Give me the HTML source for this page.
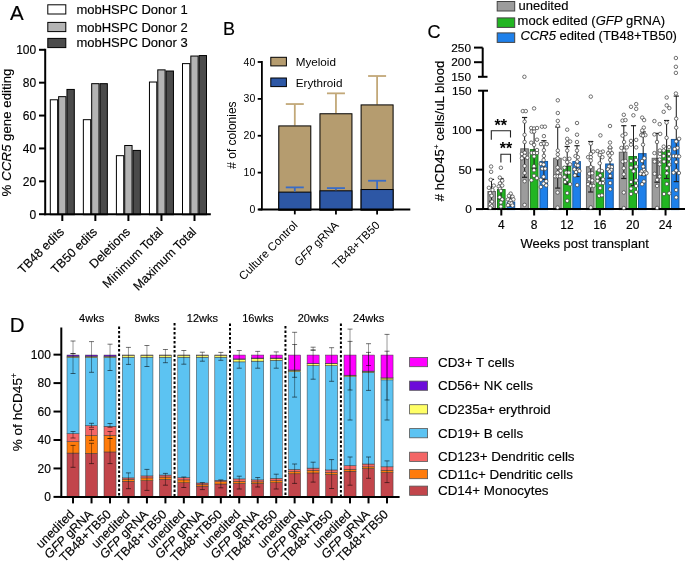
<!DOCTYPE html>
<html><head><meta charset="utf-8"><style>
html,body{margin:0;padding:0;background:#fff;}
svg{display:block;font-family:"Liberation Sans", sans-serif;}
svg{will-change:transform;}
text{stroke:#000;stroke-width:0.15px;}
</style></head><body>
<svg width="685" height="562" viewBox="0 0 685 562">
<rect width="685" height="562" fill="#fff"/>
<text x="10.00" y="20.20" font-size="20.5" text-anchor="start" >A</text>
<rect x="47.80" y="4.80" width="18.00" height="9.20" fill="#FFFFFF" stroke="#000" stroke-width="1" />
<text x="76.40" y="14.00" font-size="13" text-anchor="start" >mobHSPC Donor 1</text>
<rect x="47.80" y="22.40" width="18.00" height="9.20" fill="#B4B4B4" stroke="#000" stroke-width="1" />
<text x="76.40" y="31.50" font-size="13" text-anchor="start" >mobHSPC Donor 2</text>
<rect x="47.80" y="38.40" width="18.00" height="9.20" fill="#4B4B4B" stroke="#000" stroke-width="1" />
<text x="76.40" y="46.70" font-size="13" text-anchor="start" >mobHSPC Donor 3</text>
<rect x="50.30" y="99.78" width="7.33" height="114.92" fill="#FFFFFF" stroke="#000" stroke-width="1" />
<rect x="58.63" y="96.66" width="7.33" height="118.04" fill="#B4B4B4" stroke="#000" stroke-width="1" />
<rect x="66.96" y="89.43" width="7.33" height="125.27" fill="#4B4B4B" stroke="#000" stroke-width="1" />
<rect x="83.35" y="119.68" width="7.33" height="95.02" fill="#FFFFFF" stroke="#000" stroke-width="1" />
<rect x="91.68" y="83.67" width="7.33" height="131.03" fill="#B4B4B4" stroke="#000" stroke-width="1" />
<rect x="100.01" y="83.67" width="7.33" height="131.03" fill="#4B4B4B" stroke="#000" stroke-width="1" />
<rect x="116.40" y="155.68" width="7.33" height="59.02" fill="#FFFFFF" stroke="#000" stroke-width="1" />
<rect x="124.73" y="145.49" width="7.33" height="69.21" fill="#B4B4B4" stroke="#000" stroke-width="1" />
<rect x="133.06" y="150.42" width="7.33" height="64.28" fill="#4B4B4B" stroke="#000" stroke-width="1" />
<rect x="149.45" y="82.03" width="7.33" height="132.67" fill="#FFFFFF" stroke="#000" stroke-width="1" />
<rect x="157.78" y="69.86" width="7.33" height="144.84" fill="#B4B4B4" stroke="#000" stroke-width="1" />
<rect x="166.11" y="71.01" width="7.33" height="143.69" fill="#4B4B4B" stroke="#000" stroke-width="1" />
<rect x="182.50" y="63.62" width="7.33" height="151.08" fill="#FFFFFF" stroke="#000" stroke-width="1" />
<rect x="190.83" y="56.05" width="7.33" height="158.65" fill="#B4B4B4" stroke="#000" stroke-width="1" />
<rect x="199.16" y="55.56" width="7.33" height="159.14" fill="#4B4B4B" stroke="#000" stroke-width="1" />
<line x1="45.20" y1="48.80" x2="45.20" y2="215.20" stroke="#000" stroke-width="2" />
<line x1="44.20" y1="214.20" x2="210.80" y2="214.20" stroke="#000" stroke-width="2" />
<line x1="39.00" y1="214.20" x2="45.20" y2="214.20" stroke="#000" stroke-width="2" />
<text x="36.20" y="218.50" font-size="12" text-anchor="end" >0</text>
<line x1="39.00" y1="181.32" x2="45.20" y2="181.32" stroke="#000" stroke-width="2" />
<text x="36.20" y="185.62" font-size="12" text-anchor="end" >20</text>
<line x1="39.00" y1="148.44" x2="45.20" y2="148.44" stroke="#000" stroke-width="2" />
<text x="36.20" y="152.74" font-size="12" text-anchor="end" >40</text>
<line x1="39.00" y1="115.56" x2="45.20" y2="115.56" stroke="#000" stroke-width="2" />
<text x="36.20" y="119.86" font-size="12" text-anchor="end" >60</text>
<line x1="39.00" y1="82.68" x2="45.20" y2="82.68" stroke="#000" stroke-width="2" />
<text x="36.20" y="86.98" font-size="12" text-anchor="end" >80</text>
<line x1="39.00" y1="49.80" x2="45.20" y2="49.80" stroke="#000" stroke-width="2" />
<text x="36.20" y="54.10" font-size="12" text-anchor="end" >100</text>
<line x1="62.30" y1="214.20" x2="62.30" y2="221.00" stroke="#000" stroke-width="2" />
<text transform="translate(64.80,232.50) rotate(-45)" font-size="12.4" text-anchor="end">TB48 edits</text>
<line x1="95.35" y1="214.20" x2="95.35" y2="221.00" stroke="#000" stroke-width="2" />
<text transform="translate(97.85,232.50) rotate(-45)" font-size="12.4" text-anchor="end">TB50 edits</text>
<line x1="128.40" y1="214.20" x2="128.40" y2="221.00" stroke="#000" stroke-width="2" />
<text transform="translate(130.90,232.50) rotate(-45)" font-size="12.4" text-anchor="end">Deletions</text>
<line x1="161.45" y1="214.20" x2="161.45" y2="221.00" stroke="#000" stroke-width="2" />
<text transform="translate(163.95,232.50) rotate(-45)" font-size="12.4" text-anchor="end">Minimum Total</text>
<line x1="194.50" y1="214.20" x2="194.50" y2="221.00" stroke="#000" stroke-width="2" />
<text transform="translate(197.00,232.50) rotate(-45)" font-size="12.4" text-anchor="end">Maximum Total</text>
<text transform="translate(10.7,132.5) rotate(-90)" font-size="13.3" text-anchor="middle">% <tspan font-style="italic">CCR5</tspan> gene editing</text>
<text x="223.00" y="34.60" font-size="18" text-anchor="start" >B</text>
<rect x="270.80" y="57.30" width="15.60" height="8.60" fill="#B59C6F" stroke="#000" stroke-width="1" />
<rect x="270.80" y="78.00" width="15.60" height="8.60" fill="#2D57A5" stroke="#000" stroke-width="1" />
<text x="295.70" y="65.90" font-size="11.7" text-anchor="start" style="stroke:none">Myeloid</text>
<text x="295.70" y="86.60" font-size="11.7" text-anchor="start" style="stroke:none">Erythroid</text>
<line x1="294.80" y1="125.42" x2="294.80" y2="104.04" stroke="#C2A878" stroke-width="1.8" />
<line x1="285.80" y1="104.04" x2="303.80" y2="104.04" stroke="#C2A878" stroke-width="1.8" />
<rect x="278.80" y="125.92" width="32.00" height="84.08" fill="#B59C6F" stroke="#000" stroke-width="1" />
<rect x="278.80" y="192.12" width="32.00" height="17.88" fill="#2D57A5" stroke="#000" stroke-width="1" />
<line x1="294.80" y1="191.62" x2="294.80" y2="187.38" stroke="#3A6CC6" stroke-width="1.8" />
<line x1="285.80" y1="187.38" x2="303.80" y2="187.38" stroke="#3A6CC6" stroke-width="1.8" />
<line x1="294.80" y1="209.50" x2="294.80" y2="214.40" stroke="#000" stroke-width="1.8" />
<line x1="335.95" y1="113.26" x2="335.95" y2="93.34" stroke="#C2A878" stroke-width="1.8" />
<line x1="326.95" y1="93.34" x2="344.95" y2="93.34" stroke="#C2A878" stroke-width="1.8" />
<rect x="319.95" y="113.76" width="32.00" height="96.24" fill="#B59C6F" stroke="#000" stroke-width="1" />
<rect x="319.95" y="190.82" width="32.00" height="19.18" fill="#2D57A5" stroke="#000" stroke-width="1" />
<line x1="335.95" y1="190.32" x2="335.95" y2="188.11" stroke="#3A6CC6" stroke-width="1.8" />
<line x1="326.95" y1="188.11" x2="344.95" y2="188.11" stroke="#3A6CC6" stroke-width="1.8" />
<line x1="335.95" y1="209.50" x2="335.95" y2="214.40" stroke="#000" stroke-width="1.8" />
<line x1="377.10" y1="104.41" x2="377.10" y2="76.01" stroke="#C2A878" stroke-width="1.8" />
<line x1="368.10" y1="76.01" x2="386.10" y2="76.01" stroke="#C2A878" stroke-width="1.8" />
<rect x="361.10" y="104.91" width="32.00" height="105.09" fill="#B59C6F" stroke="#000" stroke-width="1" />
<rect x="361.10" y="189.53" width="32.00" height="20.47" fill="#2D57A5" stroke="#000" stroke-width="1" />
<line x1="377.10" y1="189.03" x2="377.10" y2="180.74" stroke="#3A6CC6" stroke-width="1.8" />
<line x1="368.10" y1="180.74" x2="386.10" y2="180.74" stroke="#3A6CC6" stroke-width="1.8" />
<line x1="377.10" y1="209.50" x2="377.10" y2="214.40" stroke="#000" stroke-width="1.8" />
<line x1="261.90" y1="61.10" x2="261.90" y2="210.30" stroke="#000" stroke-width="1.8" />
<line x1="258.50" y1="209.50" x2="410.30" y2="209.50" stroke="#000" stroke-width="1.8" />
<line x1="257.70" y1="209.50" x2="262.00" y2="209.50" stroke="#000" stroke-width="1.8" />
<text x="255.30" y="213.10" font-size="10.5" text-anchor="end" style="stroke:none">0</text>
<line x1="257.70" y1="172.62" x2="262.00" y2="172.62" stroke="#000" stroke-width="1.8" />
<text x="255.30" y="176.22" font-size="10.5" text-anchor="end" style="stroke:none">10</text>
<line x1="257.70" y1="135.75" x2="262.00" y2="135.75" stroke="#000" stroke-width="1.8" />
<text x="255.30" y="139.35" font-size="10.5" text-anchor="end" style="stroke:none">20</text>
<line x1="257.70" y1="98.88" x2="262.00" y2="98.88" stroke="#000" stroke-width="1.8" />
<text x="255.30" y="102.47" font-size="10.5" text-anchor="end" style="stroke:none">30</text>
<line x1="257.70" y1="62.00" x2="262.00" y2="62.00" stroke="#000" stroke-width="1.8" />
<text x="255.30" y="65.60" font-size="10.5" text-anchor="end" style="stroke:none">40</text>
<text transform="translate(298.30,226.00) rotate(-45)" font-size="11.5" text-anchor="end" style="stroke:none">Culture Control</text>
<text transform="translate(339.45,226.00) rotate(-45)" font-size="11.5" text-anchor="end" style="stroke:none"><tspan font-style="italic">GFP</tspan> gRNA</text>
<text transform="translate(380.60,226.00) rotate(-45)" font-size="11.5" text-anchor="end" style="stroke:none">TB48+TB50</text>
<text transform="translate(236.0,135.1) rotate(-90)" font-size="12" text-anchor="middle" style="stroke:none"># of colonies</text>
<text x="9.80" y="332.00" font-size="20.5" text-anchor="start" >D</text>
<rect x="67.00" y="453.07" width="12.05" height="43.83" fill="#C2454B" stroke="#3a3a3a" stroke-width="0.5" />
<rect x="67.00" y="441.58" width="12.05" height="11.49" fill="#FF7B0B" stroke="#3a3a3a" stroke-width="0.5" />
<rect x="67.00" y="433.63" width="12.05" height="7.94" fill="#F46666" stroke="#3a3a3a" stroke-width="0.5" />
<rect x="67.00" y="357.46" width="12.05" height="76.17" fill="#5CC3F2" stroke="#3a3a3a" stroke-width="0.5" />
<rect x="67.00" y="356.33" width="12.05" height="1.13" fill="#FFFF66" stroke="#3a3a3a" stroke-width="0.5" />
<rect x="67.00" y="355.05" width="12.05" height="1.28" fill="#6C0BD9" stroke="#3a3a3a" stroke-width="0.5" />
<line x1="73.03" y1="341.00" x2="73.03" y2="373.50" stroke="rgba(0,0,0,0.5)" stroke-width="0.8" />
<line x1="70.53" y1="341.00" x2="75.53" y2="341.00" stroke="rgba(0,0,0,0.55)" stroke-width="1.0" />
<line x1="70.53" y1="373.50" x2="75.53" y2="373.50" stroke="rgba(0,0,0,0.55)" stroke-width="1.0" />
<line x1="73.03" y1="353.60" x2="73.03" y2="353.60" stroke="rgba(0,0,0,0.5)" stroke-width="0.8" />
<line x1="70.53" y1="353.60" x2="75.53" y2="353.60" stroke="rgba(0,0,0,0.55)" stroke-width="1.0" />
<line x1="70.53" y1="353.60" x2="75.53" y2="353.60" stroke="rgba(0,0,0,0.55)" stroke-width="1.0" />
<line x1="73.03" y1="431.50" x2="73.03" y2="438.00" stroke="rgba(0,0,0,0.5)" stroke-width="0.8" />
<line x1="70.53" y1="431.50" x2="75.53" y2="431.50" stroke="rgba(0,0,0,0.55)" stroke-width="1.0" />
<line x1="70.53" y1="438.00" x2="75.53" y2="438.00" stroke="rgba(0,0,0,0.55)" stroke-width="1.0" />
<line x1="73.03" y1="445.40" x2="73.03" y2="467.30" stroke="rgba(0,0,0,0.5)" stroke-width="0.8" />
<line x1="70.53" y1="445.40" x2="75.53" y2="445.40" stroke="rgba(0,0,0,0.55)" stroke-width="1.0" />
<line x1="70.53" y1="467.30" x2="75.53" y2="467.30" stroke="rgba(0,0,0,0.55)" stroke-width="1.0" />
<line x1="73.03" y1="496.90" x2="73.03" y2="503.40" stroke="#000" stroke-width="2" />
<text transform="translate(75.03,515.00) rotate(-45)" font-size="12.5" text-anchor="end">unedited</text>
<rect x="85.50" y="453.35" width="12.05" height="43.55" fill="#C2454B" stroke="#3a3a3a" stroke-width="0.5" />
<rect x="85.50" y="435.48" width="12.05" height="17.87" fill="#FF7B0B" stroke="#3a3a3a" stroke-width="0.5" />
<rect x="85.50" y="425.69" width="12.05" height="9.79" fill="#F46666" stroke="#3a3a3a" stroke-width="0.5" />
<rect x="85.50" y="357.46" width="12.05" height="68.23" fill="#5CC3F2" stroke="#3a3a3a" stroke-width="0.5" />
<rect x="85.50" y="356.33" width="12.05" height="1.13" fill="#FFFF66" stroke="#3a3a3a" stroke-width="0.5" />
<rect x="85.50" y="355.05" width="12.05" height="1.28" fill="#6C0BD9" stroke="#3a3a3a" stroke-width="0.5" />
<line x1="91.53" y1="341.60" x2="91.53" y2="372.30" stroke="rgba(0,0,0,0.5)" stroke-width="0.8" />
<line x1="89.03" y1="341.60" x2="94.03" y2="341.60" stroke="rgba(0,0,0,0.55)" stroke-width="1.0" />
<line x1="89.03" y1="372.30" x2="94.03" y2="372.30" stroke="rgba(0,0,0,0.55)" stroke-width="1.0" />
<line x1="91.53" y1="423.30" x2="91.53" y2="427.30" stroke="rgba(0,0,0,0.5)" stroke-width="0.8" />
<line x1="89.03" y1="423.30" x2="94.03" y2="423.30" stroke="rgba(0,0,0,0.55)" stroke-width="1.0" />
<line x1="89.03" y1="427.30" x2="94.03" y2="427.30" stroke="rgba(0,0,0,0.55)" stroke-width="1.0" />
<line x1="91.53" y1="429.40" x2="91.53" y2="440.40" stroke="rgba(0,0,0,0.5)" stroke-width="0.8" />
<line x1="89.03" y1="429.40" x2="94.03" y2="429.40" stroke="rgba(0,0,0,0.55)" stroke-width="1.0" />
<line x1="89.03" y1="440.40" x2="94.03" y2="440.40" stroke="rgba(0,0,0,0.55)" stroke-width="1.0" />
<line x1="91.53" y1="443.30" x2="91.53" y2="463.60" stroke="rgba(0,0,0,0.5)" stroke-width="0.8" />
<line x1="89.03" y1="443.30" x2="94.03" y2="443.30" stroke="rgba(0,0,0,0.55)" stroke-width="1.0" />
<line x1="89.03" y1="463.60" x2="94.03" y2="463.60" stroke="rgba(0,0,0,0.55)" stroke-width="1.0" />
<line x1="91.53" y1="496.90" x2="91.53" y2="503.40" stroke="#000" stroke-width="2" />
<text transform="translate(93.53,515.00) rotate(-45)" font-size="12.5" text-anchor="end"><tspan font-style="italic">GFP</tspan> gRNA</text>
<rect x="104.00" y="451.93" width="12.05" height="44.97" fill="#C2454B" stroke="#3a3a3a" stroke-width="0.5" />
<rect x="104.00" y="435.34" width="12.05" height="16.60" fill="#FF7B0B" stroke="#3a3a3a" stroke-width="0.5" />
<rect x="104.00" y="426.26" width="12.05" height="9.08" fill="#F46666" stroke="#3a3a3a" stroke-width="0.5" />
<rect x="104.00" y="357.46" width="12.05" height="68.80" fill="#5CC3F2" stroke="#3a3a3a" stroke-width="0.5" />
<rect x="104.00" y="356.33" width="12.05" height="1.13" fill="#FFFF66" stroke="#3a3a3a" stroke-width="0.5" />
<rect x="104.00" y="355.05" width="12.05" height="1.28" fill="#6C0BD9" stroke="#3a3a3a" stroke-width="0.5" />
<line x1="110.03" y1="344.20" x2="110.03" y2="370.50" stroke="rgba(0,0,0,0.5)" stroke-width="0.8" />
<line x1="107.53" y1="344.20" x2="112.53" y2="344.20" stroke="rgba(0,0,0,0.55)" stroke-width="1.0" />
<line x1="107.53" y1="370.50" x2="112.53" y2="370.50" stroke="rgba(0,0,0,0.55)" stroke-width="1.0" />
<line x1="110.03" y1="423.50" x2="110.03" y2="427.30" stroke="rgba(0,0,0,0.5)" stroke-width="0.8" />
<line x1="107.53" y1="423.50" x2="112.53" y2="423.50" stroke="rgba(0,0,0,0.55)" stroke-width="1.0" />
<line x1="107.53" y1="427.30" x2="112.53" y2="427.30" stroke="rgba(0,0,0,0.55)" stroke-width="1.0" />
<line x1="110.03" y1="431.50" x2="110.03" y2="438.50" stroke="rgba(0,0,0,0.5)" stroke-width="0.8" />
<line x1="107.53" y1="431.50" x2="112.53" y2="431.50" stroke="rgba(0,0,0,0.55)" stroke-width="1.0" />
<line x1="107.53" y1="438.50" x2="112.53" y2="438.50" stroke="rgba(0,0,0,0.55)" stroke-width="1.0" />
<line x1="110.03" y1="438.50" x2="110.03" y2="463.60" stroke="rgba(0,0,0,0.5)" stroke-width="0.8" />
<line x1="107.53" y1="438.50" x2="112.53" y2="438.50" stroke="rgba(0,0,0,0.55)" stroke-width="1.0" />
<line x1="107.53" y1="463.60" x2="112.53" y2="463.60" stroke="rgba(0,0,0,0.55)" stroke-width="1.0" />
<line x1="110.03" y1="496.90" x2="110.03" y2="503.40" stroke="#000" stroke-width="2" />
<text transform="translate(112.03,515.00) rotate(-45)" font-size="12.5" text-anchor="end">TB48+TB50</text>
<rect x="122.40" y="481.30" width="12.05" height="15.60" fill="#C2454B" stroke="#3a3a3a" stroke-width="0.5" />
<rect x="122.40" y="479.17" width="12.05" height="2.13" fill="#FF7B0B" stroke="#3a3a3a" stroke-width="0.5" />
<rect x="122.40" y="477.89" width="12.05" height="1.28" fill="#F46666" stroke="#3a3a3a" stroke-width="0.5" />
<rect x="122.40" y="357.18" width="12.05" height="120.71" fill="#5CC3F2" stroke="#3a3a3a" stroke-width="0.5" />
<rect x="122.40" y="355.19" width="12.05" height="1.99" fill="#FFFF66" stroke="#3a3a3a" stroke-width="0.5" />
<rect x="122.40" y="355.05" width="12.05" height="0.14" fill="#6C0BD9" stroke="#3a3a3a" stroke-width="0.5" />
<line x1="128.43" y1="347.40" x2="128.43" y2="364.40" stroke="rgba(0,0,0,0.5)" stroke-width="0.8" />
<line x1="125.93" y1="347.40" x2="130.93" y2="347.40" stroke="rgba(0,0,0,0.55)" stroke-width="1.0" />
<line x1="125.93" y1="364.40" x2="130.93" y2="364.40" stroke="rgba(0,0,0,0.55)" stroke-width="1.0" />
<line x1="128.43" y1="472.90" x2="128.43" y2="488.70" stroke="rgba(0,0,0,0.5)" stroke-width="0.8" />
<line x1="125.93" y1="472.90" x2="130.93" y2="472.90" stroke="rgba(0,0,0,0.55)" stroke-width="1.0" />
<line x1="125.93" y1="488.70" x2="130.93" y2="488.70" stroke="rgba(0,0,0,0.55)" stroke-width="1.0" />
<line x1="128.43" y1="496.90" x2="128.43" y2="503.40" stroke="#000" stroke-width="2" />
<text transform="translate(130.43,515.00) rotate(-45)" font-size="12.5" text-anchor="end">unedited</text>
<rect x="140.90" y="480.59" width="12.05" height="16.31" fill="#C2454B" stroke="#3a3a3a" stroke-width="0.5" />
<rect x="140.90" y="477.89" width="12.05" height="2.70" fill="#FF7B0B" stroke="#3a3a3a" stroke-width="0.5" />
<rect x="140.90" y="475.91" width="12.05" height="1.99" fill="#F46666" stroke="#3a3a3a" stroke-width="0.5" />
<rect x="140.90" y="357.18" width="12.05" height="118.73" fill="#5CC3F2" stroke="#3a3a3a" stroke-width="0.5" />
<rect x="140.90" y="355.19" width="12.05" height="1.99" fill="#FFFF66" stroke="#3a3a3a" stroke-width="0.5" />
<rect x="140.90" y="355.05" width="12.05" height="0.14" fill="#6C0BD9" stroke="#3a3a3a" stroke-width="0.5" />
<line x1="146.93" y1="345.50" x2="146.93" y2="366.50" stroke="rgba(0,0,0,0.5)" stroke-width="0.8" />
<line x1="144.43" y1="345.50" x2="149.43" y2="345.50" stroke="rgba(0,0,0,0.55)" stroke-width="1.0" />
<line x1="144.43" y1="366.50" x2="149.43" y2="366.50" stroke="rgba(0,0,0,0.55)" stroke-width="1.0" />
<line x1="146.93" y1="469.40" x2="146.93" y2="490.40" stroke="rgba(0,0,0,0.5)" stroke-width="0.8" />
<line x1="144.43" y1="469.40" x2="149.43" y2="469.40" stroke="rgba(0,0,0,0.55)" stroke-width="1.0" />
<line x1="144.43" y1="490.40" x2="149.43" y2="490.40" stroke="rgba(0,0,0,0.55)" stroke-width="1.0" />
<line x1="146.93" y1="496.90" x2="146.93" y2="503.40" stroke="#000" stroke-width="2" />
<text transform="translate(148.93,515.00) rotate(-45)" font-size="12.5" text-anchor="end"><tspan font-style="italic">GFP</tspan> gRNA</text>
<rect x="159.40" y="479.45" width="12.05" height="17.45" fill="#C2454B" stroke="#3a3a3a" stroke-width="0.5" />
<rect x="159.40" y="477.04" width="12.05" height="2.41" fill="#FF7B0B" stroke="#3a3a3a" stroke-width="0.5" />
<rect x="159.40" y="475.06" width="12.05" height="1.99" fill="#F46666" stroke="#3a3a3a" stroke-width="0.5" />
<rect x="159.40" y="357.18" width="12.05" height="117.88" fill="#5CC3F2" stroke="#3a3a3a" stroke-width="0.5" />
<rect x="159.40" y="355.19" width="12.05" height="1.99" fill="#FFFF66" stroke="#3a3a3a" stroke-width="0.5" />
<rect x="159.40" y="355.05" width="12.05" height="0.14" fill="#6C0BD9" stroke="#3a3a3a" stroke-width="0.5" />
<line x1="165.43" y1="349.50" x2="165.43" y2="362.70" stroke="rgba(0,0,0,0.5)" stroke-width="0.8" />
<line x1="162.93" y1="349.50" x2="167.93" y2="349.50" stroke="rgba(0,0,0,0.55)" stroke-width="1.0" />
<line x1="162.93" y1="362.70" x2="167.93" y2="362.70" stroke="rgba(0,0,0,0.55)" stroke-width="1.0" />
<line x1="165.43" y1="473.40" x2="165.43" y2="485.20" stroke="rgba(0,0,0,0.5)" stroke-width="0.8" />
<line x1="162.93" y1="473.40" x2="167.93" y2="473.40" stroke="rgba(0,0,0,0.55)" stroke-width="1.0" />
<line x1="162.93" y1="485.20" x2="167.93" y2="485.20" stroke="rgba(0,0,0,0.55)" stroke-width="1.0" />
<line x1="165.43" y1="496.90" x2="165.43" y2="503.40" stroke="#000" stroke-width="2" />
<text transform="translate(167.43,515.00) rotate(-45)" font-size="12.5" text-anchor="end">TB48+TB50</text>
<rect x="177.80" y="482.71" width="12.05" height="14.19" fill="#C2454B" stroke="#3a3a3a" stroke-width="0.5" />
<rect x="177.80" y="479.88" width="12.05" height="2.84" fill="#FF7B0B" stroke="#3a3a3a" stroke-width="0.5" />
<rect x="177.80" y="477.75" width="12.05" height="2.13" fill="#F46666" stroke="#3a3a3a" stroke-width="0.5" />
<rect x="177.80" y="357.18" width="12.05" height="120.57" fill="#5CC3F2" stroke="#3a3a3a" stroke-width="0.5" />
<rect x="177.80" y="355.19" width="12.05" height="1.99" fill="#FFFF66" stroke="#3a3a3a" stroke-width="0.5" />
<rect x="177.80" y="355.05" width="12.05" height="0.14" fill="#6C0BD9" stroke="#3a3a3a" stroke-width="0.5" />
<line x1="183.83" y1="350.50" x2="183.83" y2="364.20" stroke="rgba(0,0,0,0.5)" stroke-width="0.8" />
<line x1="181.33" y1="350.50" x2="186.33" y2="350.50" stroke="rgba(0,0,0,0.55)" stroke-width="1.0" />
<line x1="181.33" y1="364.20" x2="186.33" y2="364.20" stroke="rgba(0,0,0,0.55)" stroke-width="1.0" />
<line x1="183.83" y1="477.00" x2="183.83" y2="487.50" stroke="rgba(0,0,0,0.5)" stroke-width="0.8" />
<line x1="181.33" y1="477.00" x2="186.33" y2="477.00" stroke="rgba(0,0,0,0.55)" stroke-width="1.0" />
<line x1="181.33" y1="487.50" x2="186.33" y2="487.50" stroke="rgba(0,0,0,0.55)" stroke-width="1.0" />
<line x1="183.83" y1="496.90" x2="183.83" y2="503.40" stroke="#000" stroke-width="2" />
<text transform="translate(185.83,515.00) rotate(-45)" font-size="12.5" text-anchor="end">unedited</text>
<rect x="196.30" y="486.12" width="12.05" height="10.78" fill="#C2454B" stroke="#3a3a3a" stroke-width="0.5" />
<rect x="196.30" y="484.70" width="12.05" height="1.42" fill="#FF7B0B" stroke="#3a3a3a" stroke-width="0.5" />
<rect x="196.30" y="483.00" width="12.05" height="1.70" fill="#F46666" stroke="#3a3a3a" stroke-width="0.5" />
<rect x="196.30" y="357.18" width="12.05" height="125.82" fill="#5CC3F2" stroke="#3a3a3a" stroke-width="0.5" />
<rect x="196.30" y="355.19" width="12.05" height="1.99" fill="#FFFF66" stroke="#3a3a3a" stroke-width="0.5" />
<rect x="196.30" y="355.05" width="12.05" height="0.14" fill="#6C0BD9" stroke="#3a3a3a" stroke-width="0.5" />
<line x1="202.33" y1="352.20" x2="202.33" y2="361.20" stroke="rgba(0,0,0,0.5)" stroke-width="0.8" />
<line x1="199.83" y1="352.20" x2="204.83" y2="352.20" stroke="rgba(0,0,0,0.55)" stroke-width="1.0" />
<line x1="199.83" y1="361.20" x2="204.83" y2="361.20" stroke="rgba(0,0,0,0.55)" stroke-width="1.0" />
<line x1="202.33" y1="482.60" x2="202.33" y2="489.60" stroke="rgba(0,0,0,0.5)" stroke-width="0.8" />
<line x1="199.83" y1="482.60" x2="204.83" y2="482.60" stroke="rgba(0,0,0,0.55)" stroke-width="1.0" />
<line x1="199.83" y1="489.60" x2="204.83" y2="489.60" stroke="rgba(0,0,0,0.55)" stroke-width="1.0" />
<line x1="202.33" y1="496.90" x2="202.33" y2="503.40" stroke="#000" stroke-width="2" />
<text transform="translate(204.33,515.00) rotate(-45)" font-size="12.5" text-anchor="end"><tspan font-style="italic">GFP</tspan> gRNA</text>
<rect x="214.80" y="483.99" width="12.05" height="12.91" fill="#C2454B" stroke="#3a3a3a" stroke-width="0.5" />
<rect x="214.80" y="481.72" width="12.05" height="2.27" fill="#FF7B0B" stroke="#3a3a3a" stroke-width="0.5" />
<rect x="214.80" y="480.30" width="12.05" height="1.42" fill="#F46666" stroke="#3a3a3a" stroke-width="0.5" />
<rect x="214.80" y="357.18" width="12.05" height="123.13" fill="#5CC3F2" stroke="#3a3a3a" stroke-width="0.5" />
<rect x="214.80" y="355.19" width="12.05" height="1.99" fill="#FFFF66" stroke="#3a3a3a" stroke-width="0.5" />
<rect x="214.80" y="355.05" width="12.05" height="0.14" fill="#6C0BD9" stroke="#3a3a3a" stroke-width="0.5" />
<line x1="220.83" y1="352.40" x2="220.83" y2="360.30" stroke="rgba(0,0,0,0.5)" stroke-width="0.8" />
<line x1="218.33" y1="352.40" x2="223.33" y2="352.40" stroke="rgba(0,0,0,0.55)" stroke-width="1.0" />
<line x1="218.33" y1="360.30" x2="223.33" y2="360.30" stroke="rgba(0,0,0,0.55)" stroke-width="1.0" />
<line x1="220.83" y1="479.90" x2="220.83" y2="487.80" stroke="rgba(0,0,0,0.5)" stroke-width="0.8" />
<line x1="218.33" y1="479.90" x2="223.33" y2="479.90" stroke="rgba(0,0,0,0.55)" stroke-width="1.0" />
<line x1="218.33" y1="487.80" x2="223.33" y2="487.80" stroke="rgba(0,0,0,0.55)" stroke-width="1.0" />
<line x1="220.83" y1="496.90" x2="220.83" y2="503.40" stroke="#000" stroke-width="2" />
<text transform="translate(222.83,515.00) rotate(-45)" font-size="12.5" text-anchor="end">TB48+TB50</text>
<rect x="233.20" y="483.42" width="12.05" height="13.48" fill="#C2454B" stroke="#3a3a3a" stroke-width="0.5" />
<rect x="233.20" y="481.30" width="12.05" height="2.13" fill="#FF7B0B" stroke="#3a3a3a" stroke-width="0.5" />
<rect x="233.20" y="478.89" width="12.05" height="2.41" fill="#F46666" stroke="#3a3a3a" stroke-width="0.5" />
<rect x="233.20" y="361.86" width="12.05" height="117.03" fill="#5CC3F2" stroke="#3a3a3a" stroke-width="0.5" />
<rect x="233.20" y="359.16" width="12.05" height="2.70" fill="#FFFF66" stroke="#3a3a3a" stroke-width="0.5" />
<rect x="233.20" y="358.88" width="12.05" height="0.28" fill="#6C0BD9" stroke="#3a3a3a" stroke-width="0.5" />
<rect x="233.20" y="355.05" width="12.05" height="3.83" fill="#FF00FF" stroke="#3a3a3a" stroke-width="0.5" />
<line x1="239.22" y1="350.50" x2="239.22" y2="368.20" stroke="rgba(0,0,0,0.5)" stroke-width="0.8" />
<line x1="236.72" y1="350.50" x2="241.72" y2="350.50" stroke="rgba(0,0,0,0.55)" stroke-width="1.0" />
<line x1="236.72" y1="368.20" x2="241.72" y2="368.20" stroke="rgba(0,0,0,0.55)" stroke-width="1.0" />
<line x1="239.22" y1="476.20" x2="239.22" y2="489.00" stroke="rgba(0,0,0,0.5)" stroke-width="0.8" />
<line x1="236.72" y1="476.20" x2="241.72" y2="476.20" stroke="rgba(0,0,0,0.55)" stroke-width="1.0" />
<line x1="236.72" y1="489.00" x2="241.72" y2="489.00" stroke="rgba(0,0,0,0.55)" stroke-width="1.0" />
<line x1="239.22" y1="496.90" x2="239.22" y2="503.40" stroke="#000" stroke-width="2" />
<text transform="translate(241.22,515.00) rotate(-45)" font-size="12.5" text-anchor="end">unedited</text>
<rect x="251.70" y="483.42" width="12.05" height="13.48" fill="#C2454B" stroke="#3a3a3a" stroke-width="0.5" />
<rect x="251.70" y="481.86" width="12.05" height="1.56" fill="#FF7B0B" stroke="#3a3a3a" stroke-width="0.5" />
<rect x="251.70" y="479.88" width="12.05" height="1.99" fill="#F46666" stroke="#3a3a3a" stroke-width="0.5" />
<rect x="251.70" y="361.15" width="12.05" height="118.73" fill="#5CC3F2" stroke="#3a3a3a" stroke-width="0.5" />
<rect x="251.70" y="358.45" width="12.05" height="2.70" fill="#FFFF66" stroke="#3a3a3a" stroke-width="0.5" />
<rect x="251.70" y="358.03" width="12.05" height="0.43" fill="#6C0BD9" stroke="#3a3a3a" stroke-width="0.5" />
<rect x="251.70" y="355.05" width="12.05" height="2.98" fill="#FF00FF" stroke="#3a3a3a" stroke-width="0.5" />
<line x1="257.72" y1="351.40" x2="257.72" y2="368.20" stroke="rgba(0,0,0,0.5)" stroke-width="0.8" />
<line x1="255.22" y1="351.40" x2="260.22" y2="351.40" stroke="rgba(0,0,0,0.55)" stroke-width="1.0" />
<line x1="255.22" y1="368.20" x2="260.22" y2="368.20" stroke="rgba(0,0,0,0.55)" stroke-width="1.0" />
<line x1="257.72" y1="477.50" x2="257.72" y2="487.00" stroke="rgba(0,0,0,0.5)" stroke-width="0.8" />
<line x1="255.22" y1="477.50" x2="260.22" y2="477.50" stroke="rgba(0,0,0,0.55)" stroke-width="1.0" />
<line x1="255.22" y1="487.00" x2="260.22" y2="487.00" stroke="rgba(0,0,0,0.55)" stroke-width="1.0" />
<line x1="257.72" y1="496.90" x2="257.72" y2="503.40" stroke="#000" stroke-width="2" />
<text transform="translate(259.72,515.00) rotate(-45)" font-size="12.5" text-anchor="end"><tspan font-style="italic">GFP</tspan> gRNA</text>
<rect x="270.20" y="482.71" width="12.05" height="14.19" fill="#C2454B" stroke="#3a3a3a" stroke-width="0.5" />
<rect x="270.20" y="480.59" width="12.05" height="2.13" fill="#FF7B0B" stroke="#3a3a3a" stroke-width="0.5" />
<rect x="270.20" y="478.32" width="12.05" height="2.27" fill="#F46666" stroke="#3a3a3a" stroke-width="0.5" />
<rect x="270.20" y="360.30" width="12.05" height="118.02" fill="#5CC3F2" stroke="#3a3a3a" stroke-width="0.5" />
<rect x="270.20" y="358.31" width="12.05" height="1.99" fill="#FFFF66" stroke="#3a3a3a" stroke-width="0.5" />
<rect x="270.20" y="358.03" width="12.05" height="0.28" fill="#6C0BD9" stroke="#3a3a3a" stroke-width="0.5" />
<rect x="270.20" y="355.05" width="12.05" height="2.98" fill="#FF00FF" stroke="#3a3a3a" stroke-width="0.5" />
<line x1="276.22" y1="351.90" x2="276.22" y2="368.20" stroke="rgba(0,0,0,0.5)" stroke-width="0.8" />
<line x1="273.72" y1="351.90" x2="278.72" y2="351.90" stroke="rgba(0,0,0,0.55)" stroke-width="1.0" />
<line x1="273.72" y1="368.20" x2="278.72" y2="368.20" stroke="rgba(0,0,0,0.55)" stroke-width="1.0" />
<line x1="276.22" y1="474.20" x2="276.22" y2="489.00" stroke="rgba(0,0,0,0.5)" stroke-width="0.8" />
<line x1="273.72" y1="474.20" x2="278.72" y2="474.20" stroke="rgba(0,0,0,0.55)" stroke-width="1.0" />
<line x1="273.72" y1="489.00" x2="278.72" y2="489.00" stroke="rgba(0,0,0,0.55)" stroke-width="1.0" />
<line x1="276.22" y1="496.90" x2="276.22" y2="503.40" stroke="#000" stroke-width="2" />
<text transform="translate(278.22,515.00) rotate(-45)" font-size="12.5" text-anchor="end">TB48+TB50</text>
<rect x="288.60" y="473.78" width="12.05" height="23.12" fill="#C2454B" stroke="#3a3a3a" stroke-width="0.5" />
<rect x="288.60" y="471.65" width="12.05" height="2.13" fill="#FF7B0B" stroke="#3a3a3a" stroke-width="0.5" />
<rect x="288.60" y="469.38" width="12.05" height="2.27" fill="#F46666" stroke="#3a3a3a" stroke-width="0.5" />
<rect x="288.60" y="371.65" width="12.05" height="97.73" fill="#5CC3F2" stroke="#3a3a3a" stroke-width="0.5" />
<rect x="288.60" y="370.23" width="12.05" height="1.42" fill="#FFFF66" stroke="#3a3a3a" stroke-width="0.5" />
<rect x="288.60" y="369.94" width="12.05" height="0.28" fill="#6C0BD9" stroke="#3a3a3a" stroke-width="0.5" />
<rect x="288.60" y="355.05" width="12.05" height="14.89" fill="#FF00FF" stroke="#3a3a3a" stroke-width="0.5" />
<line x1="294.62" y1="332.30" x2="294.62" y2="397.10" stroke="rgba(0,0,0,0.5)" stroke-width="0.8" />
<line x1="292.12" y1="332.30" x2="297.12" y2="332.30" stroke="rgba(0,0,0,0.55)" stroke-width="1.0" />
<line x1="292.12" y1="397.10" x2="297.12" y2="397.10" stroke="rgba(0,0,0,0.55)" stroke-width="1.0" />
<line x1="294.62" y1="344.50" x2="294.62" y2="377.30" stroke="rgba(0,0,0,0.5)" stroke-width="0.8" />
<line x1="292.12" y1="344.50" x2="297.12" y2="344.50" stroke="rgba(0,0,0,0.55)" stroke-width="1.0" />
<line x1="292.12" y1="377.30" x2="297.12" y2="377.30" stroke="rgba(0,0,0,0.55)" stroke-width="1.0" />
<line x1="294.62" y1="464.00" x2="294.62" y2="483.40" stroke="rgba(0,0,0,0.5)" stroke-width="0.8" />
<line x1="292.12" y1="464.00" x2="297.12" y2="464.00" stroke="rgba(0,0,0,0.55)" stroke-width="1.0" />
<line x1="292.12" y1="483.40" x2="297.12" y2="483.40" stroke="rgba(0,0,0,0.55)" stroke-width="1.0" />
<line x1="294.62" y1="496.90" x2="294.62" y2="503.40" stroke="#000" stroke-width="2" />
<text transform="translate(296.62,515.00) rotate(-45)" font-size="12.5" text-anchor="end">unedited</text>
<rect x="307.10" y="472.93" width="12.05" height="23.97" fill="#C2454B" stroke="#3a3a3a" stroke-width="0.5" />
<rect x="307.10" y="470.37" width="12.05" height="2.55" fill="#FF7B0B" stroke="#3a3a3a" stroke-width="0.5" />
<rect x="307.10" y="468.10" width="12.05" height="2.27" fill="#F46666" stroke="#3a3a3a" stroke-width="0.5" />
<rect x="307.10" y="365.55" width="12.05" height="102.56" fill="#5CC3F2" stroke="#3a3a3a" stroke-width="0.5" />
<rect x="307.10" y="363.56" width="12.05" height="1.99" fill="#FFFF66" stroke="#3a3a3a" stroke-width="0.5" />
<rect x="307.10" y="363.28" width="12.05" height="0.28" fill="#6C0BD9" stroke="#3a3a3a" stroke-width="0.5" />
<rect x="307.10" y="355.05" width="12.05" height="8.23" fill="#FF00FF" stroke="#3a3a3a" stroke-width="0.5" />
<line x1="313.12" y1="347.20" x2="313.12" y2="379.20" stroke="rgba(0,0,0,0.5)" stroke-width="0.8" />
<line x1="310.62" y1="347.20" x2="315.62" y2="347.20" stroke="rgba(0,0,0,0.55)" stroke-width="1.0" />
<line x1="310.62" y1="379.20" x2="315.62" y2="379.20" stroke="rgba(0,0,0,0.55)" stroke-width="1.0" />
<line x1="313.12" y1="350.10" x2="313.12" y2="350.10" stroke="rgba(0,0,0,0.5)" stroke-width="0.8" />
<line x1="310.62" y1="350.10" x2="315.62" y2="350.10" stroke="rgba(0,0,0,0.55)" stroke-width="1.0" />
<line x1="310.62" y1="350.10" x2="315.62" y2="350.10" stroke="rgba(0,0,0,0.55)" stroke-width="1.0" />
<line x1="313.12" y1="462.20" x2="313.12" y2="482.10" stroke="rgba(0,0,0,0.5)" stroke-width="0.8" />
<line x1="310.62" y1="462.20" x2="315.62" y2="462.20" stroke="rgba(0,0,0,0.55)" stroke-width="1.0" />
<line x1="310.62" y1="482.10" x2="315.62" y2="482.10" stroke="rgba(0,0,0,0.55)" stroke-width="1.0" />
<line x1="313.12" y1="496.90" x2="313.12" y2="503.40" stroke="#000" stroke-width="2" />
<text transform="translate(315.12,515.00) rotate(-45)" font-size="12.5" text-anchor="end"><tspan font-style="italic">GFP</tspan> gRNA</text>
<rect x="325.60" y="474.49" width="12.05" height="22.41" fill="#C2454B" stroke="#3a3a3a" stroke-width="0.5" />
<rect x="325.60" y="472.50" width="12.05" height="1.99" fill="#FF7B0B" stroke="#3a3a3a" stroke-width="0.5" />
<rect x="325.60" y="469.95" width="12.05" height="2.55" fill="#F46666" stroke="#3a3a3a" stroke-width="0.5" />
<rect x="325.60" y="365.55" width="12.05" height="104.40" fill="#5CC3F2" stroke="#3a3a3a" stroke-width="0.5" />
<rect x="325.60" y="363.56" width="12.05" height="1.99" fill="#FFFF66" stroke="#3a3a3a" stroke-width="0.5" />
<rect x="325.60" y="363.28" width="12.05" height="0.28" fill="#6C0BD9" stroke="#3a3a3a" stroke-width="0.5" />
<rect x="325.60" y="355.05" width="12.05" height="8.23" fill="#FF00FF" stroke="#3a3a3a" stroke-width="0.5" />
<line x1="331.62" y1="347.70" x2="331.62" y2="381.30" stroke="rgba(0,0,0,0.5)" stroke-width="0.8" />
<line x1="329.12" y1="347.70" x2="334.12" y2="347.70" stroke="rgba(0,0,0,0.55)" stroke-width="1.0" />
<line x1="329.12" y1="381.30" x2="334.12" y2="381.30" stroke="rgba(0,0,0,0.55)" stroke-width="1.0" />
<line x1="331.62" y1="459.60" x2="331.62" y2="488.50" stroke="rgba(0,0,0,0.5)" stroke-width="0.8" />
<line x1="329.12" y1="459.60" x2="334.12" y2="459.60" stroke="rgba(0,0,0,0.55)" stroke-width="1.0" />
<line x1="329.12" y1="488.50" x2="334.12" y2="488.50" stroke="rgba(0,0,0,0.55)" stroke-width="1.0" />
<line x1="331.62" y1="496.90" x2="331.62" y2="503.40" stroke="#000" stroke-width="2" />
<text transform="translate(333.62,515.00) rotate(-45)" font-size="12.5" text-anchor="end">TB48+TB50</text>
<rect x="344.00" y="471.23" width="12.05" height="25.67" fill="#C2454B" stroke="#3a3a3a" stroke-width="0.5" />
<rect x="344.00" y="469.24" width="12.05" height="1.99" fill="#FF7B0B" stroke="#3a3a3a" stroke-width="0.5" />
<rect x="344.00" y="465.69" width="12.05" height="3.55" fill="#F46666" stroke="#3a3a3a" stroke-width="0.5" />
<rect x="344.00" y="376.75" width="12.05" height="88.94" fill="#5CC3F2" stroke="#3a3a3a" stroke-width="0.5" />
<rect x="344.00" y="375.33" width="12.05" height="1.42" fill="#FFFF66" stroke="#3a3a3a" stroke-width="0.5" />
<rect x="344.00" y="375.19" width="12.05" height="0.14" fill="#6C0BD9" stroke="#3a3a3a" stroke-width="0.5" />
<rect x="344.00" y="355.05" width="12.05" height="20.14" fill="#FF00FF" stroke="#3a3a3a" stroke-width="0.5" />
<line x1="350.02" y1="329.10" x2="350.02" y2="420.00" stroke="rgba(0,0,0,0.5)" stroke-width="0.8" />
<line x1="347.52" y1="329.10" x2="352.52" y2="329.10" stroke="rgba(0,0,0,0.55)" stroke-width="1.0" />
<line x1="347.52" y1="420.00" x2="352.52" y2="420.00" stroke="rgba(0,0,0,0.55)" stroke-width="1.0" />
<line x1="350.02" y1="341.40" x2="350.02" y2="390.00" stroke="rgba(0,0,0,0.5)" stroke-width="0.8" />
<line x1="347.52" y1="341.40" x2="352.52" y2="341.40" stroke="rgba(0,0,0,0.55)" stroke-width="1.0" />
<line x1="347.52" y1="390.00" x2="352.52" y2="390.00" stroke="rgba(0,0,0,0.55)" stroke-width="1.0" />
<line x1="350.02" y1="457.00" x2="350.02" y2="485.20" stroke="rgba(0,0,0,0.5)" stroke-width="0.8" />
<line x1="347.52" y1="457.00" x2="352.52" y2="457.00" stroke="rgba(0,0,0,0.55)" stroke-width="1.0" />
<line x1="347.52" y1="485.20" x2="352.52" y2="485.20" stroke="rgba(0,0,0,0.55)" stroke-width="1.0" />
<line x1="350.02" y1="496.90" x2="350.02" y2="503.40" stroke="#000" stroke-width="2" />
<text transform="translate(352.02,515.00) rotate(-45)" font-size="12.5" text-anchor="end">unedited</text>
<rect x="362.50" y="468.53" width="12.05" height="28.37" fill="#C2454B" stroke="#3a3a3a" stroke-width="0.5" />
<rect x="362.50" y="466.83" width="12.05" height="1.70" fill="#FF7B0B" stroke="#3a3a3a" stroke-width="0.5" />
<rect x="362.50" y="463.99" width="12.05" height="2.84" fill="#F46666" stroke="#3a3a3a" stroke-width="0.5" />
<rect x="362.50" y="372.36" width="12.05" height="91.64" fill="#5CC3F2" stroke="#3a3a3a" stroke-width="0.5" />
<rect x="362.50" y="371.22" width="12.05" height="1.13" fill="#FFFF66" stroke="#3a3a3a" stroke-width="0.5" />
<rect x="362.50" y="371.08" width="12.05" height="0.14" fill="#6C0BD9" stroke="#3a3a3a" stroke-width="0.5" />
<rect x="362.50" y="355.05" width="12.05" height="16.03" fill="#FF00FF" stroke="#3a3a3a" stroke-width="0.5" />
<line x1="368.52" y1="343.70" x2="368.52" y2="390.40" stroke="rgba(0,0,0,0.5)" stroke-width="0.8" />
<line x1="366.02" y1="343.70" x2="371.02" y2="343.70" stroke="rgba(0,0,0,0.55)" stroke-width="1.0" />
<line x1="366.02" y1="390.40" x2="371.02" y2="390.40" stroke="rgba(0,0,0,0.55)" stroke-width="1.0" />
<line x1="368.52" y1="352.40" x2="368.52" y2="365.50" stroke="rgba(0,0,0,0.5)" stroke-width="0.8" />
<line x1="366.02" y1="352.40" x2="371.02" y2="352.40" stroke="rgba(0,0,0,0.55)" stroke-width="1.0" />
<line x1="366.02" y1="365.50" x2="371.02" y2="365.50" stroke="rgba(0,0,0,0.55)" stroke-width="1.0" />
<line x1="368.52" y1="457.00" x2="368.52" y2="478.30" stroke="rgba(0,0,0,0.5)" stroke-width="0.8" />
<line x1="366.02" y1="457.00" x2="371.02" y2="457.00" stroke="rgba(0,0,0,0.55)" stroke-width="1.0" />
<line x1="366.02" y1="478.30" x2="371.02" y2="478.30" stroke="rgba(0,0,0,0.55)" stroke-width="1.0" />
<line x1="368.52" y1="496.90" x2="368.52" y2="503.40" stroke="#000" stroke-width="2" />
<text transform="translate(370.52,515.00) rotate(-45)" font-size="12.5" text-anchor="end"><tspan font-style="italic">GFP</tspan> gRNA</text>
<rect x="381.00" y="472.50" width="12.05" height="24.40" fill="#C2454B" stroke="#3a3a3a" stroke-width="0.5" />
<rect x="381.00" y="470.23" width="12.05" height="2.27" fill="#FF7B0B" stroke="#3a3a3a" stroke-width="0.5" />
<rect x="381.00" y="466.83" width="12.05" height="3.40" fill="#F46666" stroke="#3a3a3a" stroke-width="0.5" />
<rect x="381.00" y="379.87" width="12.05" height="86.95" fill="#5CC3F2" stroke="#3a3a3a" stroke-width="0.5" />
<rect x="381.00" y="378.03" width="12.05" height="1.84" fill="#FFFF66" stroke="#3a3a3a" stroke-width="0.5" />
<rect x="381.00" y="377.89" width="12.05" height="0.14" fill="#6C0BD9" stroke="#3a3a3a" stroke-width="0.5" />
<rect x="381.00" y="355.05" width="12.05" height="22.84" fill="#FF00FF" stroke="#3a3a3a" stroke-width="0.5" />
<line x1="387.02" y1="334.40" x2="387.02" y2="420.00" stroke="rgba(0,0,0,0.5)" stroke-width="0.8" />
<line x1="384.52" y1="334.40" x2="389.52" y2="334.40" stroke="rgba(0,0,0,0.55)" stroke-width="1.0" />
<line x1="384.52" y1="420.00" x2="389.52" y2="420.00" stroke="rgba(0,0,0,0.55)" stroke-width="1.0" />
<line x1="387.02" y1="351.20" x2="387.02" y2="400.00" stroke="rgba(0,0,0,0.5)" stroke-width="0.8" />
<line x1="384.52" y1="351.20" x2="389.52" y2="351.20" stroke="rgba(0,0,0,0.55)" stroke-width="1.0" />
<line x1="384.52" y1="400.00" x2="389.52" y2="400.00" stroke="rgba(0,0,0,0.55)" stroke-width="1.0" />
<line x1="387.02" y1="460.90" x2="387.02" y2="482.60" stroke="rgba(0,0,0,0.5)" stroke-width="0.8" />
<line x1="384.52" y1="460.90" x2="389.52" y2="460.90" stroke="rgba(0,0,0,0.55)" stroke-width="1.0" />
<line x1="384.52" y1="482.60" x2="389.52" y2="482.60" stroke="rgba(0,0,0,0.55)" stroke-width="1.0" />
<line x1="387.02" y1="496.90" x2="387.02" y2="503.40" stroke="#000" stroke-width="2" />
<text transform="translate(389.02,515.00) rotate(-45)" font-size="12.5" text-anchor="end">TB48+TB50</text>
<line x1="119.10" y1="326.50" x2="119.10" y2="496.90" stroke="#000" stroke-width="2" stroke-dasharray="2.5,2"/>
<line x1="174.55" y1="322.90" x2="174.55" y2="496.90" stroke="#000" stroke-width="2" stroke-dasharray="2.5,2"/>
<line x1="230.00" y1="323.40" x2="230.00" y2="496.90" stroke="#000" stroke-width="2" stroke-dasharray="2.5,2"/>
<line x1="285.45" y1="326.00" x2="285.45" y2="496.90" stroke="#000" stroke-width="2" stroke-dasharray="2.5,2"/>
<line x1="340.90" y1="323.40" x2="340.90" y2="496.90" stroke="#000" stroke-width="2" stroke-dasharray="2.5,2"/>
<text x="91.65" y="321.50" font-size="11" text-anchor="middle" >4wks</text>
<text x="147.05" y="321.50" font-size="11" text-anchor="middle" >8wks</text>
<text x="202.45" y="321.50" font-size="11" text-anchor="middle" >12wks</text>
<text x="257.85" y="321.50" font-size="11" text-anchor="middle" >16wks</text>
<text x="313.25" y="321.50" font-size="11" text-anchor="middle" >20wks</text>
<text x="368.65" y="321.50" font-size="11" text-anchor="middle" >24wks</text>
<line x1="61.30" y1="327.50" x2="61.30" y2="498.00" stroke="#000" stroke-width="2" />
<line x1="60.30" y1="496.90" x2="399.60" y2="496.90" stroke="#000" stroke-width="2" />
<line x1="53.50" y1="496.90" x2="61.30" y2="496.90" stroke="#000" stroke-width="2" />
<text x="50.90" y="501.10" font-size="12" text-anchor="end" >0</text>
<line x1="53.50" y1="468.45" x2="61.30" y2="468.45" stroke="#000" stroke-width="2" />
<text x="50.90" y="472.65" font-size="12" text-anchor="end" >20</text>
<line x1="53.50" y1="440.00" x2="61.30" y2="440.00" stroke="#000" stroke-width="2" />
<text x="50.90" y="444.20" font-size="12" text-anchor="end" >40</text>
<line x1="53.50" y1="411.55" x2="61.30" y2="411.55" stroke="#000" stroke-width="2" />
<text x="50.90" y="415.75" font-size="12" text-anchor="end" >60</text>
<line x1="53.50" y1="383.10" x2="61.30" y2="383.10" stroke="#000" stroke-width="2" />
<text x="50.90" y="387.30" font-size="12" text-anchor="end" >80</text>
<line x1="53.50" y1="354.65" x2="61.30" y2="354.65" stroke="#000" stroke-width="2" />
<text x="50.90" y="358.85" font-size="12" text-anchor="end" >100</text>
<text transform="translate(22.4,412.2) rotate(-90)" font-size="13.6" text-anchor="middle">% of hCD45<tspan font-size="8.5" dy="-5.5">+</tspan></text>
<rect x="409.60" y="357.50" width="18.00" height="9.20" fill="#FF00FF" stroke="#555" stroke-width="0.8" />
<text x="438.00" y="366.50" font-size="13.4" text-anchor="start" >CD3+ T cells</text>
<rect x="409.60" y="381.10" width="18.00" height="9.20" fill="#6C0BD9" stroke="#555" stroke-width="0.8" />
<text x="438.00" y="390.10" font-size="13.4" text-anchor="start" >CD56+ NK cells</text>
<rect x="409.60" y="404.70" width="18.00" height="9.20" fill="#FFFF66" stroke="#555" stroke-width="0.8" />
<text x="438.00" y="413.70" font-size="13.4" text-anchor="start" >CD235a+ erythroid</text>
<rect x="409.60" y="428.60" width="18.00" height="9.20" fill="#5CC3F2" stroke="#555" stroke-width="0.8" />
<text x="438.00" y="437.60" font-size="13.4" text-anchor="start" >CD19+ B cells</text>
<rect x="409.60" y="452.20" width="18.00" height="9.20" fill="#F46666" stroke="#555" stroke-width="0.8" />
<text x="438.00" y="461.20" font-size="13.4" text-anchor="start" >CD123+ Dendritic cells</text>
<rect x="409.60" y="469.50" width="18.00" height="9.20" fill="#FF7B0B" stroke="#555" stroke-width="0.8" />
<text x="438.00" y="478.50" font-size="13.4" text-anchor="start" >CD11c+ Dendritic cells</text>
<rect x="409.60" y="486.10" width="18.00" height="9.20" fill="#C2454B" stroke="#555" stroke-width="0.8" />
<text x="438.00" y="495.10" font-size="13.4" text-anchor="start" >CD14+ Monocytes</text>
<text x="427.50" y="37.80" font-size="18" text-anchor="start" >C</text>
<rect x="497.20" y="1.50" width="17.50" height="9.50" fill="#9C9C9C" stroke="#444" stroke-width="1" />
<text x="518.50" y="10.20" font-size="13" text-anchor="start" >unedited</text>
<rect x="497.20" y="17.90" width="17.50" height="9.50" fill="#22B522" stroke="#444" stroke-width="1" />
<text x="517.60" y="25.30" font-size="13" text-anchor="start" >mock edited (<tspan font-style="italic">GFP</tspan> gRNA)</text>
<rect x="497.20" y="32.90" width="17.50" height="9.50" fill="#1E80EA" stroke="#444" stroke-width="1" />
<text x="520.50" y="40.30" font-size="13" text-anchor="start" ><tspan font-style="italic">CCR5</tspan> edited (TB48+TB50)</text>
<rect x="487.90" y="191.52" width="7.60" height="18.08" fill="#9C9C9C" stroke="#666" stroke-width="1" />
<rect x="497.50" y="189.55" width="7.60" height="20.05" fill="#22B522" stroke="#1a7a1a" stroke-width="1" />
<rect x="507.10" y="202.02" width="7.60" height="7.58" fill="#1E80EA" stroke="#1a5aa0" stroke-width="1" />
<line x1="501.30" y1="209.10" x2="501.30" y2="215.50" stroke="#000" stroke-width="2" />
<text x="501.30" y="229.00" font-size="12" text-anchor="middle" >4</text>
<rect x="520.75" y="148.82" width="7.60" height="60.78" fill="#9C9C9C" stroke="#666" stroke-width="1" />
<rect x="530.35" y="149.61" width="7.60" height="59.99" fill="#22B522" stroke="#1a7a1a" stroke-width="1" />
<rect x="539.95" y="161.45" width="7.60" height="48.15" fill="#1E80EA" stroke="#1a5aa0" stroke-width="1" />
<line x1="534.15" y1="209.10" x2="534.15" y2="215.50" stroke="#000" stroke-width="2" />
<text x="534.15" y="229.00" font-size="12" text-anchor="middle" >8</text>
<rect x="553.60" y="158.29" width="7.60" height="51.31" fill="#9C9C9C" stroke="#666" stroke-width="1" />
<rect x="563.20" y="166.50" width="7.60" height="43.10" fill="#22B522" stroke="#1a7a1a" stroke-width="1" />
<rect x="572.80" y="161.61" width="7.60" height="47.99" fill="#1E80EA" stroke="#1a5aa0" stroke-width="1" />
<line x1="567.00" y1="209.10" x2="567.00" y2="215.50" stroke="#000" stroke-width="2" />
<text x="567.00" y="229.00" font-size="12" text-anchor="middle" >12</text>
<rect x="586.45" y="166.74" width="7.60" height="42.86" fill="#9C9C9C" stroke="#666" stroke-width="1" />
<rect x="596.05" y="171.00" width="7.60" height="38.60" fill="#22B522" stroke="#1a7a1a" stroke-width="1" />
<rect x="605.65" y="163.98" width="7.60" height="45.62" fill="#1E80EA" stroke="#1a5aa0" stroke-width="1" />
<line x1="599.85" y1="209.10" x2="599.85" y2="215.50" stroke="#000" stroke-width="2" />
<text x="599.85" y="229.00" font-size="12" text-anchor="middle" >16</text>
<rect x="619.30" y="152.22" width="7.60" height="57.38" fill="#9C9C9C" stroke="#666" stroke-width="1" />
<rect x="628.90" y="156.56" width="7.60" height="53.04" fill="#22B522" stroke="#1a7a1a" stroke-width="1" />
<rect x="638.50" y="153.64" width="7.60" height="55.96" fill="#1E80EA" stroke="#1a5aa0" stroke-width="1" />
<line x1="632.70" y1="209.10" x2="632.70" y2="215.50" stroke="#000" stroke-width="2" />
<text x="632.70" y="229.00" font-size="12" text-anchor="middle" >20</text>
<rect x="652.15" y="158.29" width="7.60" height="51.31" fill="#9C9C9C" stroke="#666" stroke-width="1" />
<rect x="661.75" y="150.24" width="7.60" height="59.36" fill="#22B522" stroke="#1a7a1a" stroke-width="1" />
<rect x="671.35" y="139.43" width="7.60" height="70.17" fill="#1E80EA" stroke="#1a5aa0" stroke-width="1" />
<line x1="665.55" y1="209.10" x2="665.55" y2="215.50" stroke="#000" stroke-width="2" />
<text x="665.55" y="229.00" font-size="12" text-anchor="middle" >24</text>
<line x1="483.10" y1="90.70" x2="483.10" y2="210.00" stroke="#000" stroke-width="2" />
<line x1="482.10" y1="209.10" x2="685.00" y2="209.10" stroke="#000" stroke-width="2" />
<line x1="476.00" y1="209.10" x2="483.10" y2="209.10" stroke="#000" stroke-width="2" />
<text x="471.70" y="213.30" font-size="11.8" text-anchor="end" >0</text>
<line x1="476.00" y1="169.63" x2="483.10" y2="169.63" stroke="#000" stroke-width="2" />
<text x="471.70" y="173.83" font-size="11.8" text-anchor="end" >50</text>
<line x1="476.00" y1="130.17" x2="483.10" y2="130.17" stroke="#000" stroke-width="2" />
<text x="471.70" y="134.37" font-size="11.8" text-anchor="end" >100</text>
<line x1="478.00" y1="90.70" x2="488.00" y2="90.70" stroke="#000" stroke-width="2" />
<text x="471.70" y="94.90" font-size="11.8" text-anchor="end" >150</text>
<line x1="482.70" y1="47.60" x2="482.70" y2="77.00" stroke="#000" stroke-width="2" />
<line x1="478.00" y1="76.80" x2="487.50" y2="76.80" stroke="#000" stroke-width="2" />
<text x="471.00" y="81.00" font-size="11.8" text-anchor="end" >150</text>
<line x1="474.00" y1="62.20" x2="482.70" y2="62.20" stroke="#000" stroke-width="2" />
<text x="471.00" y="66.40" font-size="11.8" text-anchor="end" >200</text>
<line x1="474.00" y1="47.60" x2="482.70" y2="47.60" stroke="#000" stroke-width="2" />
<text x="471.00" y="51.80" font-size="11.8" text-anchor="end" >250</text>
<text x="520.40" y="247.60" font-size="13" text-anchor="start" >Weeks post transplant</text>
<text transform="translate(443.8,130.9) rotate(-90)" font-size="13.2" text-anchor="middle"># hCD45<tspan font-size="8" dy="-5">+</tspan><tspan dy="5"> cells/uL blood</tspan></text>
<line x1="491.50" y1="179.40" x2="491.50" y2="201.20" stroke="#222" stroke-width="1.05" />
<line x1="488.90" y1="179.40" x2="494.10" y2="179.40" stroke="#222" stroke-width="1.2" />
<line x1="488.90" y1="201.20" x2="494.10" y2="201.20" stroke="#222" stroke-width="1.2" />
<line x1="501.00" y1="178.50" x2="501.00" y2="199.00" stroke="#222" stroke-width="1.05" />
<line x1="498.40" y1="178.50" x2="503.60" y2="178.50" stroke="#222" stroke-width="1.2" />
<line x1="498.40" y1="199.00" x2="503.60" y2="199.00" stroke="#222" stroke-width="1.2" />
<line x1="510.70" y1="196.00" x2="510.70" y2="206.00" stroke="#222" stroke-width="1.05" />
<line x1="508.10" y1="196.00" x2="513.30" y2="196.00" stroke="#222" stroke-width="1.2" />
<line x1="508.10" y1="206.00" x2="513.30" y2="206.00" stroke="#222" stroke-width="1.2" />
<line x1="524.60" y1="117.50" x2="524.60" y2="177.30" stroke="#222" stroke-width="1.05" />
<line x1="522.00" y1="117.50" x2="527.20" y2="117.50" stroke="#222" stroke-width="1.2" />
<line x1="522.00" y1="177.30" x2="527.20" y2="177.30" stroke="#222" stroke-width="1.2" />
<line x1="534.10" y1="128.00" x2="534.10" y2="168.20" stroke="#222" stroke-width="1.05" />
<line x1="531.50" y1="128.00" x2="536.70" y2="128.00" stroke="#222" stroke-width="1.2" />
<line x1="531.50" y1="168.20" x2="536.70" y2="168.20" stroke="#222" stroke-width="1.2" />
<line x1="543.90" y1="140.70" x2="543.90" y2="179.30" stroke="#222" stroke-width="1.05" />
<line x1="541.30" y1="140.70" x2="546.50" y2="140.70" stroke="#222" stroke-width="1.2" />
<line x1="541.30" y1="179.30" x2="546.50" y2="179.30" stroke="#222" stroke-width="1.2" />
<line x1="557.70" y1="127.00" x2="557.70" y2="188.10" stroke="#222" stroke-width="1.05" />
<line x1="555.10" y1="127.00" x2="560.30" y2="127.00" stroke="#222" stroke-width="1.2" />
<line x1="555.10" y1="188.10" x2="560.30" y2="188.10" stroke="#222" stroke-width="1.2" />
<line x1="567.20" y1="146.50" x2="567.20" y2="184.20" stroke="#222" stroke-width="1.05" />
<line x1="564.60" y1="146.50" x2="569.80" y2="146.50" stroke="#222" stroke-width="1.2" />
<line x1="564.60" y1="184.20" x2="569.80" y2="184.20" stroke="#222" stroke-width="1.2" />
<line x1="577.00" y1="145.70" x2="577.00" y2="176.50" stroke="#222" stroke-width="1.05" />
<line x1="574.40" y1="145.70" x2="579.60" y2="145.70" stroke="#222" stroke-width="1.2" />
<line x1="574.40" y1="176.50" x2="579.60" y2="176.50" stroke="#222" stroke-width="1.2" />
<line x1="590.70" y1="141.50" x2="590.70" y2="192.00" stroke="#222" stroke-width="1.05" />
<line x1="588.10" y1="141.50" x2="593.30" y2="141.50" stroke="#222" stroke-width="1.2" />
<line x1="588.10" y1="192.00" x2="593.30" y2="192.00" stroke="#222" stroke-width="1.2" />
<line x1="600.30" y1="152.50" x2="600.30" y2="181.50" stroke="#222" stroke-width="1.05" />
<line x1="597.70" y1="152.50" x2="602.90" y2="152.50" stroke="#222" stroke-width="1.2" />
<line x1="597.70" y1="181.50" x2="602.90" y2="181.50" stroke="#222" stroke-width="1.2" />
<line x1="610.00" y1="148.00" x2="610.00" y2="178.20" stroke="#222" stroke-width="1.05" />
<line x1="607.40" y1="148.00" x2="612.60" y2="148.00" stroke="#222" stroke-width="1.2" />
<line x1="607.40" y1="178.20" x2="612.60" y2="178.20" stroke="#222" stroke-width="1.2" />
<line x1="623.80" y1="125.70" x2="623.80" y2="178.50" stroke="#222" stroke-width="1.05" />
<line x1="621.20" y1="125.70" x2="626.40" y2="125.70" stroke="#222" stroke-width="1.2" />
<line x1="621.20" y1="178.50" x2="626.40" y2="178.50" stroke="#222" stroke-width="1.2" />
<line x1="633.50" y1="125.70" x2="633.50" y2="185.60" stroke="#222" stroke-width="1.05" />
<line x1="630.90" y1="125.70" x2="636.10" y2="125.70" stroke="#222" stroke-width="1.2" />
<line x1="630.90" y1="185.60" x2="636.10" y2="185.60" stroke="#222" stroke-width="1.2" />
<line x1="643.20" y1="131.90" x2="643.20" y2="175.40" stroke="#222" stroke-width="1.05" />
<line x1="640.60" y1="131.90" x2="645.80" y2="131.90" stroke="#222" stroke-width="1.2" />
<line x1="640.60" y1="175.40" x2="645.80" y2="175.40" stroke="#222" stroke-width="1.2" />
<line x1="657.00" y1="133.40" x2="657.00" y2="182.20" stroke="#222" stroke-width="1.05" />
<line x1="654.40" y1="133.40" x2="659.60" y2="133.40" stroke="#222" stroke-width="1.2" />
<line x1="654.40" y1="182.20" x2="659.60" y2="182.20" stroke="#222" stroke-width="1.2" />
<line x1="666.60" y1="120.50" x2="666.60" y2="178.50" stroke="#222" stroke-width="1.05" />
<line x1="664.00" y1="120.50" x2="669.20" y2="120.50" stroke="#222" stroke-width="1.2" />
<line x1="664.00" y1="178.50" x2="669.20" y2="178.50" stroke="#222" stroke-width="1.2" />
<line x1="676.30" y1="96.10" x2="676.30" y2="181.60" stroke="#222" stroke-width="1.05" />
<line x1="673.70" y1="96.10" x2="678.90" y2="96.10" stroke="#222" stroke-width="1.2" />
<line x1="673.70" y1="181.60" x2="678.90" y2="181.60" stroke="#222" stroke-width="1.2" />
<circle cx="491.1" cy="166.5" r="1.75" fill="#fff" stroke="#444" stroke-width="0.75"/>
<circle cx="491.1" cy="171.8" r="1.75" fill="#fff" stroke="#444" stroke-width="0.75"/>
<circle cx="490.7" cy="179.8" r="1.75" fill="#fff" stroke="#444" stroke-width="0.75"/>
<circle cx="488.9" cy="187.8" r="1.75" fill="#fff" stroke="#444" stroke-width="0.75"/>
<circle cx="493.8" cy="185.6" r="1.75" fill="#fff" stroke="#444" stroke-width="0.75"/>
<circle cx="492.5" cy="190.0" r="1.75" fill="#fff" stroke="#444" stroke-width="0.75"/>
<circle cx="490.2" cy="193.2" r="1.75" fill="#fff" stroke="#444" stroke-width="0.75"/>
<circle cx="491.6" cy="195.8" r="1.75" fill="#fff" stroke="#444" stroke-width="0.75"/>
<circle cx="492.0" cy="201.6" r="1.75" fill="#fff" stroke="#444" stroke-width="0.75"/>
<circle cx="490.2" cy="204.3" r="1.75" fill="#fff" stroke="#444" stroke-width="0.75"/>
<circle cx="491.6" cy="206.1" r="1.75" fill="#fff" stroke="#444" stroke-width="0.75"/>
<circle cx="490.2" cy="207.8" r="1.75" fill="#fff" stroke="#444" stroke-width="0.75"/>
<circle cx="500.9" cy="167.8" r="1.75" fill="#fff" stroke="#444" stroke-width="0.75"/>
<circle cx="499.8" cy="177.6" r="1.75" fill="#fff" stroke="#444" stroke-width="0.75"/>
<circle cx="502.2" cy="180.7" r="1.75" fill="#fff" stroke="#444" stroke-width="0.75"/>
<circle cx="500.0" cy="183.4" r="1.75" fill="#fff" stroke="#444" stroke-width="0.75"/>
<circle cx="498.7" cy="186.5" r="1.75" fill="#fff" stroke="#444" stroke-width="0.75"/>
<circle cx="502.2" cy="185.6" r="1.75" fill="#fff" stroke="#444" stroke-width="0.75"/>
<circle cx="500.0" cy="188.7" r="1.75" fill="#fff" stroke="#444" stroke-width="0.75"/>
<circle cx="500.9" cy="190.9" r="1.75" fill="#fff" stroke="#444" stroke-width="0.75"/>
<circle cx="499.6" cy="197.2" r="1.75" fill="#fff" stroke="#444" stroke-width="0.75"/>
<circle cx="502.2" cy="199.4" r="1.75" fill="#fff" stroke="#444" stroke-width="0.75"/>
<circle cx="500.9" cy="202.5" r="1.75" fill="#fff" stroke="#444" stroke-width="0.75"/>
<circle cx="500.9" cy="206.5" r="1.75" fill="#fff" stroke="#444" stroke-width="0.75"/>
<circle cx="510.7" cy="193.6" r="1.75" fill="#fff" stroke="#444" stroke-width="0.75"/>
<circle cx="508.9" cy="195.8" r="1.75" fill="#fff" stroke="#444" stroke-width="0.75"/>
<circle cx="512.5" cy="196.7" r="1.75" fill="#fff" stroke="#444" stroke-width="0.75"/>
<circle cx="508.0" cy="199.4" r="1.75" fill="#fff" stroke="#444" stroke-width="0.75"/>
<circle cx="510.7" cy="200.7" r="1.75" fill="#fff" stroke="#444" stroke-width="0.75"/>
<circle cx="513.4" cy="199.4" r="1.75" fill="#fff" stroke="#444" stroke-width="0.75"/>
<circle cx="509.4" cy="203.0" r="1.75" fill="#fff" stroke="#444" stroke-width="0.75"/>
<circle cx="511.6" cy="203.4" r="1.75" fill="#fff" stroke="#444" stroke-width="0.75"/>
<circle cx="508.0" cy="205.2" r="1.75" fill="#fff" stroke="#444" stroke-width="0.75"/>
<circle cx="512.5" cy="205.6" r="1.75" fill="#fff" stroke="#444" stroke-width="0.75"/>
<circle cx="524.4" cy="76.8" r="1.75" fill="#fff" stroke="#444" stroke-width="0.75"/>
<circle cx="522.8" cy="111.1" r="1.75" fill="#fff" stroke="#444" stroke-width="0.75"/>
<circle cx="525.8" cy="111.1" r="1.75" fill="#fff" stroke="#444" stroke-width="0.75"/>
<circle cx="524.6" cy="121.6" r="1.75" fill="#fff" stroke="#444" stroke-width="0.75"/>
<circle cx="524.6" cy="134.8" r="1.75" fill="#fff" stroke="#444" stroke-width="0.75"/>
<circle cx="524.6" cy="142.0" r="1.75" fill="#fff" stroke="#444" stroke-width="0.75"/>
<circle cx="521.9" cy="153.9" r="1.75" fill="#fff" stroke="#444" stroke-width="0.75"/>
<circle cx="524.8" cy="152.7" r="1.75" fill="#fff" stroke="#444" stroke-width="0.75"/>
<circle cx="524.6" cy="155.9" r="1.75" fill="#fff" stroke="#444" stroke-width="0.75"/>
<circle cx="527.3" cy="157.8" r="1.75" fill="#fff" stroke="#444" stroke-width="0.75"/>
<circle cx="521.9" cy="158.3" r="1.75" fill="#fff" stroke="#444" stroke-width="0.75"/>
<circle cx="524.6" cy="166.0" r="1.75" fill="#fff" stroke="#444" stroke-width="0.75"/>
<circle cx="524.6" cy="173.0" r="1.75" fill="#fff" stroke="#444" stroke-width="0.75"/>
<circle cx="524.6" cy="181.2" r="1.75" fill="#fff" stroke="#444" stroke-width="0.75"/>
<circle cx="524.6" cy="204.9" r="1.75" fill="#fff" stroke="#444" stroke-width="0.75"/>
<circle cx="534.1" cy="108.4" r="1.75" fill="#fff" stroke="#444" stroke-width="0.75"/>
<circle cx="531.2" cy="128.0" r="1.75" fill="#fff" stroke="#444" stroke-width="0.75"/>
<circle cx="534.1" cy="128.5" r="1.75" fill="#fff" stroke="#444" stroke-width="0.75"/>
<circle cx="537.0" cy="128.0" r="1.75" fill="#fff" stroke="#444" stroke-width="0.75"/>
<circle cx="531.7" cy="131.6" r="1.75" fill="#fff" stroke="#444" stroke-width="0.75"/>
<circle cx="534.1" cy="131.6" r="1.75" fill="#fff" stroke="#444" stroke-width="0.75"/>
<circle cx="537.0" cy="139.7" r="1.75" fill="#fff" stroke="#444" stroke-width="0.75"/>
<circle cx="531.2" cy="142.7" r="1.75" fill="#fff" stroke="#444" stroke-width="0.75"/>
<circle cx="534.1" cy="144.9" r="1.75" fill="#fff" stroke="#444" stroke-width="0.75"/>
<circle cx="531.7" cy="152.9" r="1.75" fill="#fff" stroke="#444" stroke-width="0.75"/>
<circle cx="534.1" cy="152.9" r="1.75" fill="#fff" stroke="#444" stroke-width="0.75"/>
<circle cx="537.0" cy="152.9" r="1.75" fill="#fff" stroke="#444" stroke-width="0.75"/>
<circle cx="537.0" cy="150.0" r="1.75" fill="#fff" stroke="#444" stroke-width="0.75"/>
<circle cx="534.1" cy="156.4" r="1.75" fill="#fff" stroke="#444" stroke-width="0.75"/>
<circle cx="534.0" cy="166.2" r="1.75" fill="#fff" stroke="#444" stroke-width="0.75"/>
<circle cx="534.0" cy="170.2" r="1.75" fill="#fff" stroke="#444" stroke-width="0.75"/>
<circle cx="534.0" cy="175.8" r="1.75" fill="#fff" stroke="#444" stroke-width="0.75"/>
<circle cx="536.8" cy="178.1" r="1.75" fill="#fff" stroke="#444" stroke-width="0.75"/>
<circle cx="531.4" cy="180.2" r="1.75" fill="#fff" stroke="#444" stroke-width="0.75"/>
<circle cx="541.9" cy="126.7" r="1.75" fill="#fff" stroke="#444" stroke-width="0.75"/>
<circle cx="544.9" cy="126.7" r="1.75" fill="#fff" stroke="#444" stroke-width="0.75"/>
<circle cx="543.9" cy="136.1" r="1.75" fill="#fff" stroke="#444" stroke-width="0.75"/>
<circle cx="541.0" cy="144.1" r="1.75" fill="#fff" stroke="#444" stroke-width="0.75"/>
<circle cx="543.9" cy="143.6" r="1.75" fill="#fff" stroke="#444" stroke-width="0.75"/>
<circle cx="546.8" cy="144.1" r="1.75" fill="#fff" stroke="#444" stroke-width="0.75"/>
<circle cx="543.9" cy="150.2" r="1.75" fill="#fff" stroke="#444" stroke-width="0.75"/>
<circle cx="543.9" cy="155.9" r="1.75" fill="#fff" stroke="#444" stroke-width="0.75"/>
<circle cx="543.6" cy="160.0" r="1.75" fill="#fff" stroke="#444" stroke-width="0.75"/>
<circle cx="540.8" cy="163.9" r="1.75" fill="#fff" stroke="#444" stroke-width="0.75"/>
<circle cx="543.6" cy="164.6" r="1.75" fill="#fff" stroke="#444" stroke-width="0.75"/>
<circle cx="542.2" cy="168.7" r="1.75" fill="#fff" stroke="#444" stroke-width="0.75"/>
<circle cx="545.2" cy="168.7" r="1.75" fill="#fff" stroke="#444" stroke-width="0.75"/>
<circle cx="543.6" cy="176.8" r="1.75" fill="#fff" stroke="#444" stroke-width="0.75"/>
<circle cx="540.8" cy="179.8" r="1.75" fill="#fff" stroke="#444" stroke-width="0.75"/>
<circle cx="546.2" cy="181.2" r="1.75" fill="#fff" stroke="#444" stroke-width="0.75"/>
<circle cx="543.6" cy="183.6" r="1.75" fill="#fff" stroke="#444" stroke-width="0.75"/>
<circle cx="546.2" cy="185.4" r="1.75" fill="#fff" stroke="#444" stroke-width="0.75"/>
<circle cx="540.8" cy="187.0" r="1.75" fill="#fff" stroke="#444" stroke-width="0.75"/>
<circle cx="557.8" cy="100.3" r="1.75" fill="#fff" stroke="#444" stroke-width="0.75"/>
<circle cx="557.8" cy="113.0" r="1.75" fill="#fff" stroke="#444" stroke-width="0.75"/>
<circle cx="557.8" cy="120.9" r="1.75" fill="#fff" stroke="#444" stroke-width="0.75"/>
<circle cx="557.8" cy="125.8" r="1.75" fill="#fff" stroke="#444" stroke-width="0.75"/>
<circle cx="557.8" cy="150.6" r="1.75" fill="#fff" stroke="#444" stroke-width="0.75"/>
<circle cx="557.8" cy="154.4" r="1.75" fill="#fff" stroke="#444" stroke-width="0.75"/>
<circle cx="557.6" cy="158.3" r="1.75" fill="#fff" stroke="#444" stroke-width="0.75"/>
<circle cx="557.6" cy="167.4" r="1.75" fill="#fff" stroke="#444" stroke-width="0.75"/>
<circle cx="560.6" cy="170.8" r="1.75" fill="#fff" stroke="#444" stroke-width="0.75"/>
<circle cx="557.6" cy="172.6" r="1.75" fill="#fff" stroke="#444" stroke-width="0.75"/>
<circle cx="555.1" cy="176.3" r="1.75" fill="#fff" stroke="#444" stroke-width="0.75"/>
<circle cx="557.6" cy="176.3" r="1.75" fill="#fff" stroke="#444" stroke-width="0.75"/>
<circle cx="560.0" cy="176.3" r="1.75" fill="#fff" stroke="#444" stroke-width="0.75"/>
<circle cx="557.6" cy="192.5" r="1.75" fill="#fff" stroke="#444" stroke-width="0.75"/>
<circle cx="557.6" cy="207.6" r="1.75" fill="#fff" stroke="#444" stroke-width="0.75"/>
<circle cx="567.2" cy="129.7" r="1.75" fill="#fff" stroke="#444" stroke-width="0.75"/>
<circle cx="567.2" cy="138.8" r="1.75" fill="#fff" stroke="#444" stroke-width="0.75"/>
<circle cx="570.2" cy="141.5" r="1.75" fill="#fff" stroke="#444" stroke-width="0.75"/>
<circle cx="567.2" cy="143.1" r="1.75" fill="#fff" stroke="#444" stroke-width="0.75"/>
<circle cx="567.2" cy="150.6" r="1.75" fill="#fff" stroke="#444" stroke-width="0.75"/>
<circle cx="564.5" cy="158.8" r="1.75" fill="#fff" stroke="#444" stroke-width="0.75"/>
<circle cx="569.4" cy="158.8" r="1.75" fill="#fff" stroke="#444" stroke-width="0.75"/>
<circle cx="567.2" cy="162.1" r="1.75" fill="#fff" stroke="#444" stroke-width="0.75"/>
<circle cx="570.0" cy="164.4" r="1.75" fill="#fff" stroke="#444" stroke-width="0.75"/>
<circle cx="564.5" cy="167.7" r="1.75" fill="#fff" stroke="#444" stroke-width="0.75"/>
<circle cx="566.1" cy="172.6" r="1.75" fill="#fff" stroke="#444" stroke-width="0.75"/>
<circle cx="568.9" cy="172.6" r="1.75" fill="#fff" stroke="#444" stroke-width="0.75"/>
<circle cx="564.5" cy="177.1" r="1.75" fill="#fff" stroke="#444" stroke-width="0.75"/>
<circle cx="567.2" cy="179.8" r="1.75" fill="#fff" stroke="#444" stroke-width="0.75"/>
<circle cx="565.0" cy="182.0" r="1.75" fill="#fff" stroke="#444" stroke-width="0.75"/>
<circle cx="570.0" cy="184.2" r="1.75" fill="#fff" stroke="#444" stroke-width="0.75"/>
<circle cx="567.2" cy="193.1" r="1.75" fill="#fff" stroke="#444" stroke-width="0.75"/>
<circle cx="567.2" cy="200.8" r="1.75" fill="#fff" stroke="#444" stroke-width="0.75"/>
<circle cx="577.0" cy="123.0" r="1.75" fill="#fff" stroke="#444" stroke-width="0.75"/>
<circle cx="577.0" cy="134.7" r="1.75" fill="#fff" stroke="#444" stroke-width="0.75"/>
<circle cx="577.0" cy="142.0" r="1.75" fill="#fff" stroke="#444" stroke-width="0.75"/>
<circle cx="577.0" cy="150.6" r="1.75" fill="#fff" stroke="#444" stroke-width="0.75"/>
<circle cx="575.5" cy="156.1" r="1.75" fill="#fff" stroke="#444" stroke-width="0.75"/>
<circle cx="577.9" cy="157.2" r="1.75" fill="#fff" stroke="#444" stroke-width="0.75"/>
<circle cx="577.2" cy="161.6" r="1.75" fill="#fff" stroke="#444" stroke-width="0.75"/>
<circle cx="576.1" cy="164.9" r="1.75" fill="#fff" stroke="#444" stroke-width="0.75"/>
<circle cx="577.9" cy="165.5" r="1.75" fill="#fff" stroke="#444" stroke-width="0.75"/>
<circle cx="574.4" cy="169.3" r="1.75" fill="#fff" stroke="#444" stroke-width="0.75"/>
<circle cx="578.3" cy="169.9" r="1.75" fill="#fff" stroke="#444" stroke-width="0.75"/>
<circle cx="576.1" cy="172.1" r="1.75" fill="#fff" stroke="#444" stroke-width="0.75"/>
<circle cx="579.4" cy="171.0" r="1.75" fill="#fff" stroke="#444" stroke-width="0.75"/>
<circle cx="574.9" cy="175.4" r="1.75" fill="#fff" stroke="#444" stroke-width="0.75"/>
<circle cx="577.2" cy="185.1" r="1.75" fill="#fff" stroke="#444" stroke-width="0.75"/>
<circle cx="590.8" cy="96.6" r="1.75" fill="#fff" stroke="#444" stroke-width="0.75"/>
<circle cx="590.8" cy="143.6" r="1.75" fill="#fff" stroke="#444" stroke-width="0.75"/>
<circle cx="593.2" cy="151.6" r="1.75" fill="#fff" stroke="#444" stroke-width="0.75"/>
<circle cx="590.8" cy="153.9" r="1.75" fill="#fff" stroke="#444" stroke-width="0.75"/>
<circle cx="588.1" cy="157.2" r="1.75" fill="#fff" stroke="#444" stroke-width="0.75"/>
<circle cx="590.8" cy="157.2" r="1.75" fill="#fff" stroke="#444" stroke-width="0.75"/>
<circle cx="590.8" cy="160.5" r="1.75" fill="#fff" stroke="#444" stroke-width="0.75"/>
<circle cx="590.8" cy="167.1" r="1.75" fill="#fff" stroke="#444" stroke-width="0.75"/>
<circle cx="589.2" cy="173.7" r="1.75" fill="#fff" stroke="#444" stroke-width="0.75"/>
<circle cx="592.2" cy="173.2" r="1.75" fill="#fff" stroke="#444" stroke-width="0.75"/>
<circle cx="589.2" cy="179.3" r="1.75" fill="#fff" stroke="#444" stroke-width="0.75"/>
<circle cx="592.2" cy="180.4" r="1.75" fill="#fff" stroke="#444" stroke-width="0.75"/>
<circle cx="588.1" cy="184.2" r="1.75" fill="#fff" stroke="#444" stroke-width="0.75"/>
<circle cx="590.8" cy="185.9" r="1.75" fill="#fff" stroke="#444" stroke-width="0.75"/>
<circle cx="593.6" cy="185.9" r="1.75" fill="#fff" stroke="#444" stroke-width="0.75"/>
<circle cx="590.8" cy="207.4" r="1.75" fill="#fff" stroke="#444" stroke-width="0.75"/>
<circle cx="600.4" cy="135.4" r="1.75" fill="#fff" stroke="#444" stroke-width="0.75"/>
<circle cx="597.5" cy="151.1" r="1.75" fill="#fff" stroke="#444" stroke-width="0.75"/>
<circle cx="602.8" cy="151.6" r="1.75" fill="#fff" stroke="#444" stroke-width="0.75"/>
<circle cx="600.4" cy="152.7" r="1.75" fill="#fff" stroke="#444" stroke-width="0.75"/>
<circle cx="599.7" cy="155.0" r="1.75" fill="#fff" stroke="#444" stroke-width="0.75"/>
<circle cx="602.4" cy="157.2" r="1.75" fill="#fff" stroke="#444" stroke-width="0.75"/>
<circle cx="599.7" cy="163.3" r="1.75" fill="#fff" stroke="#444" stroke-width="0.75"/>
<circle cx="599.1" cy="170.4" r="1.75" fill="#fff" stroke="#444" stroke-width="0.75"/>
<circle cx="601.9" cy="171.0" r="1.75" fill="#fff" stroke="#444" stroke-width="0.75"/>
<circle cx="600.2" cy="175.4" r="1.75" fill="#fff" stroke="#444" stroke-width="0.75"/>
<circle cx="597.5" cy="177.6" r="1.75" fill="#fff" stroke="#444" stroke-width="0.75"/>
<circle cx="603.0" cy="179.3" r="1.75" fill="#fff" stroke="#444" stroke-width="0.75"/>
<circle cx="597.5" cy="180.9" r="1.75" fill="#fff" stroke="#444" stroke-width="0.75"/>
<circle cx="600.2" cy="183.1" r="1.75" fill="#fff" stroke="#444" stroke-width="0.75"/>
<circle cx="603.0" cy="183.1" r="1.75" fill="#fff" stroke="#444" stroke-width="0.75"/>
<circle cx="600.2" cy="188.1" r="1.75" fill="#fff" stroke="#444" stroke-width="0.75"/>
<circle cx="599.1" cy="195.8" r="1.75" fill="#fff" stroke="#444" stroke-width="0.75"/>
<circle cx="601.9" cy="195.3" r="1.75" fill="#fff" stroke="#444" stroke-width="0.75"/>
<circle cx="610.0" cy="126.0" r="1.75" fill="#fff" stroke="#444" stroke-width="0.75"/>
<circle cx="610.0" cy="142.5" r="1.75" fill="#fff" stroke="#444" stroke-width="0.75"/>
<circle cx="610.0" cy="147.4" r="1.75" fill="#fff" stroke="#444" stroke-width="0.75"/>
<circle cx="610.0" cy="150.6" r="1.75" fill="#fff" stroke="#444" stroke-width="0.75"/>
<circle cx="608.2" cy="153.2" r="1.75" fill="#fff" stroke="#444" stroke-width="0.75"/>
<circle cx="611.9" cy="153.2" r="1.75" fill="#fff" stroke="#444" stroke-width="0.75"/>
<circle cx="609.6" cy="155.5" r="1.75" fill="#fff" stroke="#444" stroke-width="0.75"/>
<circle cx="610.2" cy="159.9" r="1.75" fill="#fff" stroke="#444" stroke-width="0.75"/>
<circle cx="609.1" cy="166.6" r="1.75" fill="#fff" stroke="#444" stroke-width="0.75"/>
<circle cx="611.8" cy="167.1" r="1.75" fill="#fff" stroke="#444" stroke-width="0.75"/>
<circle cx="607.9" cy="169.3" r="1.75" fill="#fff" stroke="#444" stroke-width="0.75"/>
<circle cx="611.3" cy="169.9" r="1.75" fill="#fff" stroke="#444" stroke-width="0.75"/>
<circle cx="609.6" cy="171.5" r="1.75" fill="#fff" stroke="#444" stroke-width="0.75"/>
<circle cx="610.2" cy="175.9" r="1.75" fill="#fff" stroke="#444" stroke-width="0.75"/>
<circle cx="610.2" cy="183.1" r="1.75" fill="#fff" stroke="#444" stroke-width="0.75"/>
<circle cx="610.2" cy="189.2" r="1.75" fill="#fff" stroke="#444" stroke-width="0.75"/>
<circle cx="623.8" cy="114.8" r="1.75" fill="#fff" stroke="#444" stroke-width="0.75"/>
<circle cx="622.5" cy="120.6" r="1.75" fill="#fff" stroke="#444" stroke-width="0.75"/>
<circle cx="625.5" cy="120.1" r="1.75" fill="#fff" stroke="#444" stroke-width="0.75"/>
<circle cx="622.5" cy="135.6" r="1.75" fill="#fff" stroke="#444" stroke-width="0.75"/>
<circle cx="625.5" cy="134.0" r="1.75" fill="#fff" stroke="#444" stroke-width="0.75"/>
<circle cx="624.1" cy="142.0" r="1.75" fill="#fff" stroke="#444" stroke-width="0.75"/>
<circle cx="621.4" cy="147.9" r="1.75" fill="#fff" stroke="#444" stroke-width="0.75"/>
<circle cx="626.8" cy="147.4" r="1.75" fill="#fff" stroke="#444" stroke-width="0.75"/>
<circle cx="624.1" cy="150.5" r="1.75" fill="#fff" stroke="#444" stroke-width="0.75"/>
<circle cx="622.7" cy="161.6" r="1.75" fill="#fff" stroke="#444" stroke-width="0.75"/>
<circle cx="625.5" cy="161.0" r="1.75" fill="#fff" stroke="#444" stroke-width="0.75"/>
<circle cx="623.8" cy="168.2" r="1.75" fill="#fff" stroke="#444" stroke-width="0.75"/>
<circle cx="623.8" cy="174.3" r="1.75" fill="#fff" stroke="#444" stroke-width="0.75"/>
<circle cx="623.8" cy="192.5" r="1.75" fill="#fff" stroke="#444" stroke-width="0.75"/>
<circle cx="623.8" cy="208.0" r="1.75" fill="#fff" stroke="#444" stroke-width="0.75"/>
<circle cx="631.0" cy="106.8" r="1.75" fill="#fff" stroke="#444" stroke-width="0.75"/>
<circle cx="636.2" cy="104.1" r="1.75" fill="#fff" stroke="#444" stroke-width="0.75"/>
<circle cx="636.2" cy="108.9" r="1.75" fill="#fff" stroke="#444" stroke-width="0.75"/>
<circle cx="633.4" cy="115.3" r="1.75" fill="#fff" stroke="#444" stroke-width="0.75"/>
<circle cx="631.0" cy="140.9" r="1.75" fill="#fff" stroke="#444" stroke-width="0.75"/>
<circle cx="636.2" cy="139.9" r="1.75" fill="#fff" stroke="#444" stroke-width="0.75"/>
<circle cx="631.0" cy="144.7" r="1.75" fill="#fff" stroke="#444" stroke-width="0.75"/>
<circle cx="636.2" cy="147.4" r="1.75" fill="#fff" stroke="#444" stroke-width="0.75"/>
<circle cx="631.0" cy="161.0" r="1.75" fill="#fff" stroke="#444" stroke-width="0.75"/>
<circle cx="636.0" cy="159.9" r="1.75" fill="#fff" stroke="#444" stroke-width="0.75"/>
<circle cx="631.0" cy="167.7" r="1.75" fill="#fff" stroke="#444" stroke-width="0.75"/>
<circle cx="636.0" cy="166.6" r="1.75" fill="#fff" stroke="#444" stroke-width="0.75"/>
<circle cx="633.6" cy="171.2" r="1.75" fill="#fff" stroke="#444" stroke-width="0.75"/>
<circle cx="631.0" cy="182.0" r="1.75" fill="#fff" stroke="#444" stroke-width="0.75"/>
<circle cx="636.0" cy="180.4" r="1.75" fill="#fff" stroke="#444" stroke-width="0.75"/>
<circle cx="636.0" cy="185.9" r="1.75" fill="#fff" stroke="#444" stroke-width="0.75"/>
<circle cx="631.0" cy="188.6" r="1.75" fill="#fff" stroke="#444" stroke-width="0.75"/>
<circle cx="636.0" cy="192.0" r="1.75" fill="#fff" stroke="#444" stroke-width="0.75"/>
<circle cx="631.0" cy="193.9" r="1.75" fill="#fff" stroke="#444" stroke-width="0.75"/>
<circle cx="642.2" cy="117.6" r="1.75" fill="#fff" stroke="#444" stroke-width="0.75"/>
<circle cx="644.1" cy="120.1" r="1.75" fill="#fff" stroke="#444" stroke-width="0.75"/>
<circle cx="643.8" cy="127.6" r="1.75" fill="#fff" stroke="#444" stroke-width="0.75"/>
<circle cx="642.2" cy="130.5" r="1.75" fill="#fff" stroke="#444" stroke-width="0.75"/>
<circle cx="641.2" cy="135.1" r="1.75" fill="#fff" stroke="#444" stroke-width="0.75"/>
<circle cx="645.4" cy="135.1" r="1.75" fill="#fff" stroke="#444" stroke-width="0.75"/>
<circle cx="643.0" cy="135.6" r="1.75" fill="#fff" stroke="#444" stroke-width="0.75"/>
<circle cx="643.0" cy="144.7" r="1.75" fill="#fff" stroke="#444" stroke-width="0.75"/>
<circle cx="644.3" cy="158.3" r="1.75" fill="#fff" stroke="#444" stroke-width="0.75"/>
<circle cx="642.1" cy="161.0" r="1.75" fill="#fff" stroke="#444" stroke-width="0.75"/>
<circle cx="643.2" cy="166.6" r="1.75" fill="#fff" stroke="#444" stroke-width="0.75"/>
<circle cx="643.9" cy="169.9" r="1.75" fill="#fff" stroke="#444" stroke-width="0.75"/>
<circle cx="641.5" cy="171.5" r="1.75" fill="#fff" stroke="#444" stroke-width="0.75"/>
<circle cx="645.4" cy="172.1" r="1.75" fill="#fff" stroke="#444" stroke-width="0.75"/>
<circle cx="640.4" cy="173.7" r="1.75" fill="#fff" stroke="#444" stroke-width="0.75"/>
<circle cx="643.9" cy="174.3" r="1.75" fill="#fff" stroke="#444" stroke-width="0.75"/>
<circle cx="646.5" cy="173.2" r="1.75" fill="#fff" stroke="#444" stroke-width="0.75"/>
<circle cx="643.9" cy="181.5" r="1.75" fill="#fff" stroke="#444" stroke-width="0.75"/>
<circle cx="642.1" cy="184.2" r="1.75" fill="#fff" stroke="#444" stroke-width="0.75"/>
<circle cx="654.4" cy="121.1" r="1.75" fill="#fff" stroke="#444" stroke-width="0.75"/>
<circle cx="659.7" cy="124.1" r="1.75" fill="#fff" stroke="#444" stroke-width="0.75"/>
<circle cx="654.4" cy="134.4" r="1.75" fill="#fff" stroke="#444" stroke-width="0.75"/>
<circle cx="660.2" cy="133.9" r="1.75" fill="#fff" stroke="#444" stroke-width="0.75"/>
<circle cx="657.0" cy="142.0" r="1.75" fill="#fff" stroke="#444" stroke-width="0.75"/>
<circle cx="654.4" cy="153.1" r="1.75" fill="#fff" stroke="#444" stroke-width="0.75"/>
<circle cx="659.9" cy="150.5" r="1.75" fill="#fff" stroke="#444" stroke-width="0.75"/>
<circle cx="659.9" cy="153.9" r="1.75" fill="#fff" stroke="#444" stroke-width="0.75"/>
<circle cx="659.7" cy="159.6" r="1.75" fill="#fff" stroke="#444" stroke-width="0.75"/>
<circle cx="654.6" cy="161.6" r="1.75" fill="#fff" stroke="#444" stroke-width="0.75"/>
<circle cx="659.7" cy="164.3" r="1.75" fill="#fff" stroke="#444" stroke-width="0.75"/>
<circle cx="654.6" cy="173.8" r="1.75" fill="#fff" stroke="#444" stroke-width="0.75"/>
<circle cx="659.7" cy="176.5" r="1.75" fill="#fff" stroke="#444" stroke-width="0.75"/>
<circle cx="657.1" cy="179.8" r="1.75" fill="#fff" stroke="#444" stroke-width="0.75"/>
<circle cx="657.1" cy="185.9" r="1.75" fill="#fff" stroke="#444" stroke-width="0.75"/>
<circle cx="657.1" cy="207.9" r="1.75" fill="#fff" stroke="#444" stroke-width="0.75"/>
<circle cx="666.7" cy="97.5" r="1.75" fill="#fff" stroke="#444" stroke-width="0.75"/>
<circle cx="666.7" cy="105.4" r="1.75" fill="#fff" stroke="#444" stroke-width="0.75"/>
<circle cx="669.3" cy="108.1" r="1.75" fill="#fff" stroke="#444" stroke-width="0.75"/>
<circle cx="663.7" cy="111.8" r="1.75" fill="#fff" stroke="#444" stroke-width="0.75"/>
<circle cx="666.6" cy="122.6" r="1.75" fill="#fff" stroke="#444" stroke-width="0.75"/>
<circle cx="666.6" cy="137.8" r="1.75" fill="#fff" stroke="#444" stroke-width="0.75"/>
<circle cx="663.7" cy="146.6" r="1.75" fill="#fff" stroke="#444" stroke-width="0.75"/>
<circle cx="669.0" cy="147.1" r="1.75" fill="#fff" stroke="#444" stroke-width="0.75"/>
<circle cx="663.7" cy="150.5" r="1.75" fill="#fff" stroke="#444" stroke-width="0.75"/>
<circle cx="669.0" cy="153.9" r="1.75" fill="#fff" stroke="#444" stroke-width="0.75"/>
<circle cx="663.7" cy="155.9" r="1.75" fill="#fff" stroke="#444" stroke-width="0.75"/>
<circle cx="669.0" cy="158.8" r="1.75" fill="#fff" stroke="#444" stroke-width="0.75"/>
<circle cx="664.0" cy="161.6" r="1.75" fill="#fff" stroke="#444" stroke-width="0.75"/>
<circle cx="669.3" cy="164.6" r="1.75" fill="#fff" stroke="#444" stroke-width="0.75"/>
<circle cx="666.8" cy="168.2" r="1.75" fill="#fff" stroke="#444" stroke-width="0.75"/>
<circle cx="666.8" cy="173.2" r="1.75" fill="#fff" stroke="#444" stroke-width="0.75"/>
<circle cx="666.8" cy="183.9" r="1.75" fill="#fff" stroke="#444" stroke-width="0.75"/>
<circle cx="664.0" cy="194.0" r="1.75" fill="#fff" stroke="#444" stroke-width="0.75"/>
<circle cx="669.3" cy="193.3" r="1.75" fill="#fff" stroke="#444" stroke-width="0.75"/>
<circle cx="675.9" cy="58.0" r="1.75" fill="#fff" stroke="#444" stroke-width="0.75"/>
<circle cx="675.9" cy="66.8" r="1.75" fill="#fff" stroke="#444" stroke-width="0.75"/>
<circle cx="675.9" cy="72.9" r="1.75" fill="#fff" stroke="#444" stroke-width="0.75"/>
<circle cx="675.9" cy="93.5" r="1.75" fill="#fff" stroke="#444" stroke-width="0.75"/>
<circle cx="676.2" cy="118.7" r="1.75" fill="#fff" stroke="#444" stroke-width="0.75"/>
<circle cx="676.2" cy="127.7" r="1.75" fill="#fff" stroke="#444" stroke-width="0.75"/>
<circle cx="679.1" cy="138.8" r="1.75" fill="#fff" stroke="#444" stroke-width="0.75"/>
<circle cx="676.2" cy="141.4" r="1.75" fill="#fff" stroke="#444" stroke-width="0.75"/>
<circle cx="677.4" cy="147.9" r="1.75" fill="#fff" stroke="#444" stroke-width="0.75"/>
<circle cx="674.6" cy="149.0" r="1.75" fill="#fff" stroke="#444" stroke-width="0.75"/>
<circle cx="673.6" cy="156.1" r="1.75" fill="#fff" stroke="#444" stroke-width="0.75"/>
<circle cx="676.2" cy="156.1" r="1.75" fill="#fff" stroke="#444" stroke-width="0.75"/>
<circle cx="679.1" cy="156.4" r="1.75" fill="#fff" stroke="#444" stroke-width="0.75"/>
<circle cx="676.2" cy="162.1" r="1.75" fill="#fff" stroke="#444" stroke-width="0.75"/>
<circle cx="676.2" cy="170.4" r="1.75" fill="#fff" stroke="#444" stroke-width="0.75"/>
<circle cx="673.5" cy="172.7" r="1.75" fill="#fff" stroke="#444" stroke-width="0.75"/>
<circle cx="678.9" cy="173.0" r="1.75" fill="#fff" stroke="#444" stroke-width="0.75"/>
<circle cx="676.2" cy="190.0" r="1.75" fill="#fff" stroke="#444" stroke-width="0.75"/>
<circle cx="676.2" cy="197.4" r="1.75" fill="#fff" stroke="#444" stroke-width="0.75"/>
<path d="M491.3,139.7 V130.8 H510.5 V137.5" fill="none" stroke="#222" stroke-width="1.1"/>
<path d="M500.9,162.6 V154.3 H510.5 V162.6" fill="none" stroke="#222" stroke-width="1.1"/>
<text x="500.80" y="130.60" font-size="16" text-anchor="middle" font-weight="bold" style="stroke:none">**</text>
<text x="505.90" y="154.00" font-size="16" text-anchor="middle" font-weight="bold" style="stroke:none">**</text>
</svg></body></html>
